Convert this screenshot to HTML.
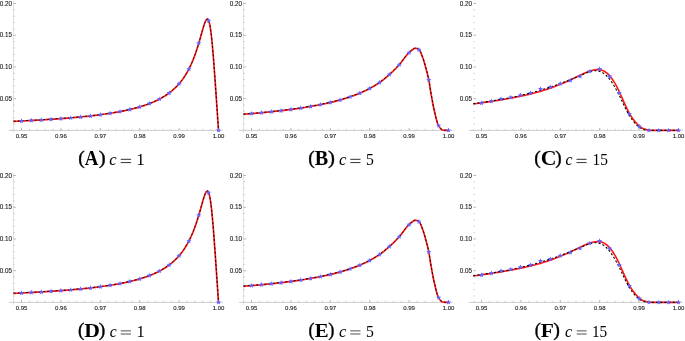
<!DOCTYPE html>
<html><head><meta charset="utf-8"><style>
html,body{margin:0;padding:0;background:#fff;overflow:hidden;}
svg{display:block;will-change:transform;}
.tl text{font-family:"Liberation Sans",sans-serif;font-size:6px;fill:#1e1e1e;stroke:#1e1e1e;stroke-width:0.12px;}
.tl .yl{font-size:6.3px;}
.cap text{font-family:"Liberation Serif",serif;fill:#000;}
.cap .b{font-weight:bold;}
.cap .i{font-style:italic;}
.cap .p{stroke:#000;stroke-width:0.35px;}
</style></head><body>
<svg width="685" height="341" viewBox="0 0 685 341">
<rect width="685" height="341" fill="#fff"/>
<line x1="9.00" y1="130.40" x2="222.80" y2="130.40" stroke="#c6c6c6" stroke-width="0.9"/>
<line x1="13.40" y1="1.00" x2="13.40" y2="132.70" stroke="#e0e0e0" stroke-width="1"/>
<path d="M21.50,130.40V127.90M60.90,130.40V127.90M100.30,130.40V127.90M139.70,130.40V127.90M179.10,130.40V127.90M218.50,130.40V127.90M13.40,98.68H16.10M13.40,66.95H16.10M13.40,35.23H16.10M13.40,3.50H16.10" stroke="#9a9a9a" stroke-width="0.7" fill="none"/>
<path d="M29.38,130.40V128.90M37.26,130.40V128.90M45.14,130.40V128.90M53.02,130.40V128.90M68.78,130.40V128.90M76.66,130.40V128.90M84.54,130.40V128.90M92.42,130.40V128.90M108.18,130.40V128.90M116.06,130.40V128.90M123.94,130.40V128.90M131.82,130.40V128.90M147.58,130.40V128.90M155.46,130.40V128.90M163.34,130.40V128.90M171.22,130.40V128.90M186.98,130.40V128.90M194.86,130.40V128.90M202.74,130.40V128.90M210.62,130.40V128.90M13.62,130.40V128.90M13.40,124.06H15.00M13.40,117.71H15.00M13.40,111.37H15.00M13.40,105.02H15.00M13.40,92.33H15.00M13.40,85.98H15.00M13.40,79.64H15.00M13.40,73.30H15.00M13.40,60.61H15.00M13.40,54.26H15.00M13.40,47.92H15.00M13.40,41.57H15.00M13.40,28.88H15.00M13.40,22.53H15.00M13.40,16.19H15.00M13.40,9.84H15.00" stroke="#b4b4b4" stroke-width="0.6" fill="none"/>
<g class="tl"><text x="21.50" y="138.30" text-anchor="middle">0.95</text><text x="60.90" y="138.30" text-anchor="middle">0.96</text><text x="100.30" y="138.30" text-anchor="middle">0.97</text><text x="139.70" y="138.30" text-anchor="middle">0.98</text><text x="179.10" y="138.30" text-anchor="middle">0.99</text><text x="218.50" y="138.30" text-anchor="middle">1.00</text><text x="12.00" y="100.93" text-anchor="end" class="yl">0.05</text><text x="12.00" y="69.20" text-anchor="end" class="yl">0.10</text><text x="12.00" y="37.47" text-anchor="end" class="yl">0.15</text><text x="12.00" y="5.75" text-anchor="end" class="yl">0.20</text></g>
<path d="M13.50,121.38 L15.17,121.30 L16.85,121.23 L18.52,121.15 L20.19,121.07 L21.87,120.99 L23.54,120.91 L25.21,120.83 L26.88,120.75 L28.56,120.66 L30.23,120.57 L31.90,120.49 L33.57,120.40 L35.25,120.31 L36.92,120.21 L38.59,120.12 L40.27,120.02 L41.94,119.92 L43.61,119.82 L45.28,119.72 L46.96,119.62 L48.63,119.51 L50.30,119.40 L51.97,119.29 L53.65,119.18 L55.32,119.06 L56.99,118.95 L58.66,118.83 L60.34,118.70 L62.01,118.58 L63.68,118.45 L65.36,118.32 L67.03,118.19 L68.70,118.05 L70.37,117.91 L72.05,117.77 L73.72,117.62 L75.39,117.47 L77.06,117.32 L78.74,117.16 L80.41,117.00 L82.08,116.84 L83.76,116.67 L85.43,116.50 L87.10,116.32 L88.77,116.14 L90.45,115.95 L92.12,115.76 L93.79,115.57 L95.46,115.37 L97.14,115.16 L98.81,114.95 L100.48,114.73 L102.16,114.50 L103.83,114.27 L105.50,114.03 L107.17,113.79 L108.85,113.53 L110.52,113.27 L112.19,113.00 L113.86,112.72 L115.54,112.44 L117.21,112.14 L118.88,111.83 L120.56,111.52 L122.23,111.19 L123.90,110.85 L125.57,110.50 L127.25,110.13 L128.92,109.76 L130.59,109.36 L132.26,108.96 L133.94,108.53 L135.61,108.09 L137.28,107.63 L138.95,107.16 L140.63,106.66 L142.30,106.14 L143.97,105.60 L145.65,105.03 L147.32,104.43 L148.99,103.81 L150.66,103.16 L152.34,102.47 L154.01,101.75 L155.68,100.99 L157.35,100.19 L159.03,99.35 L160.70,98.45 L162.37,97.51 L164.05,96.50 L165.72,95.44 L167.39,94.31 L169.06,93.10 L170.74,91.81 L172.41,90.42 L174.08,88.94 L175.75,87.35 L177.43,85.63 L179.10,83.77 L179.25,83.60 L179.40,83.42 L179.56,83.24 L179.71,83.06 L179.86,82.88 L180.01,82.69 L180.16,82.51 L180.32,82.32 L180.47,82.14 L180.62,81.95 L180.77,81.76 L180.93,81.57 L181.08,81.37 L181.23,81.18 L181.38,80.98 L181.53,80.79 L181.69,80.59 L181.84,80.39 L181.99,80.19 L182.14,79.98 L182.29,79.78 L182.45,79.57 L182.60,79.36 L182.75,79.15 L182.90,78.94 L183.06,78.73 L183.21,78.51 L183.36,78.30 L183.51,78.08 L183.66,77.86 L183.82,77.64 L183.97,77.41 L184.12,77.19 L184.27,76.96 L184.42,76.73 L184.58,76.50 L184.73,76.27 L184.88,76.03 L185.03,75.79 L185.18,75.56 L185.34,75.32 L185.49,75.07 L185.64,74.83 L185.79,74.58 L185.95,74.33 L186.10,74.08 L186.25,73.83 L186.40,73.57 L186.55,73.32 L186.71,73.06 L186.86,72.80 L187.01,72.53 L187.16,72.27 L187.31,72.00 L187.47,71.73 L187.62,71.45 L187.77,71.18 L187.92,70.90 L188.08,70.62 L188.23,70.34 L188.38,70.05 L188.53,69.76 L188.68,69.47 L188.84,69.18 L188.99,68.89 L189.14,68.59 L189.29,68.29 L189.44,67.99 L189.60,67.68 L189.75,67.37 L189.90,67.06 L190.05,66.75 L190.21,66.43 L190.36,66.11 L190.51,65.79 L190.66,65.46 L190.81,65.13 L190.97,64.80 L191.12,64.47 L191.27,64.13 L191.42,63.79 L191.57,63.45 L191.73,63.10 L191.88,62.75 L192.03,62.40 L192.18,62.04 L192.33,61.68 L192.49,61.32 L192.64,60.96 L192.79,60.59 L192.94,60.22 L193.10,59.84 L193.25,59.46 L193.40,59.08 L193.55,58.69 L193.70,58.30 L193.86,57.91 L194.01,57.52 L194.16,57.12 L194.31,56.71 L194.46,56.31 L194.62,55.90 L194.77,55.48 L194.92,55.06 L195.07,54.64 L195.23,54.22 L195.38,53.79 L195.53,53.36 L195.68,52.92 L195.83,52.48 L195.99,52.04 L196.14,51.59 L196.29,51.14 L196.44,50.69 L196.59,50.23 L196.75,49.77 L196.90,49.30 L197.05,48.83 L197.20,48.36 L197.35,47.88 L197.51,47.40 L197.66,46.92 L197.81,46.43 L197.96,45.94 L198.12,45.45 L198.27,44.95 L198.42,44.45 L198.57,43.95 L198.72,43.44 L198.88,42.93 L199.03,42.42 L199.18,41.90 L199.33,41.38 L199.48,40.86 L199.64,40.34 L199.79,39.81 L199.94,39.28 L200.09,38.75 L200.25,38.22 L200.40,37.68 L200.55,37.15 L200.70,36.61 L200.85,36.07 L201.01,35.53 L201.16,34.99 L201.31,34.46 L201.46,33.92 L201.61,33.38 L201.77,32.84 L201.92,32.30 L202.07,31.76 L202.22,31.23 L202.37,30.70 L202.53,30.17 L202.68,29.64 L202.83,29.12 L202.98,28.60 L203.14,28.09 L203.29,27.58 L203.44,27.08 L203.59,26.58 L203.74,26.09 L203.90,25.61 L204.05,25.14 L204.20,24.68 L204.35,24.23 L204.50,23.80 L204.66,23.37 L204.81,22.96 L204.96,22.56 L205.11,22.18 L205.27,21.81 L205.42,21.47 L205.57,21.14 L205.72,20.83 L205.87,20.54 L206.03,20.28 L206.18,20.04 L206.33,19.82 L206.48,19.64 L206.63,19.48 L206.79,19.35 L206.94,19.25 L207.09,19.18 L207.24,19.15 L207.39,19.15 L207.55,19.19 L207.70,19.26 L207.85,19.38 L208.00,19.54 L208.16,19.74 L208.31,19.98 L208.46,20.27 L208.61,20.61 L208.76,20.99 L208.92,21.43 L209.07,21.91 L209.22,22.44 L209.37,23.03 L209.52,23.67 L209.68,24.36 L209.83,25.11 L209.98,25.91 L210.13,26.76 L210.29,27.68 L210.44,28.64 L210.59,29.66 L210.74,30.74 L210.89,31.87 L211.05,33.06 L211.20,34.30 L211.35,35.60 L211.50,36.94 L211.65,38.34 L211.81,39.79 L211.96,41.29 L212.11,42.84 L212.26,44.43 L212.42,46.07 L212.57,47.75 L212.72,49.48 L212.87,51.24 L213.02,53.05 L213.18,54.89 L213.33,56.77 L213.48,58.68 L213.63,60.62 L213.78,62.59 L213.94,64.59 L214.09,66.61 L214.24,68.66 L214.39,70.73 L214.54,72.82 L214.70,74.93 L214.85,77.06 L215.00,79.20 L215.15,81.36 L215.31,83.53 L215.46,85.71 L215.61,87.91 L215.76,90.11 L215.91,92.32 L216.07,94.54 L216.22,96.76 L216.37,98.99 L216.52,101.22 L216.67,103.46 L216.83,105.69 L216.98,107.94 L217.13,110.18 L217.28,112.42 L217.44,114.67 L217.59,116.92 L217.74,119.16 L217.89,121.41 L218.04,123.66 L218.20,125.90 L218.35,128.15 L218.50,130.40" stroke="#ff1a1a" stroke-width="1.7" fill="none" stroke-linejoin="round"/>
<path d="M13.50,121.38 L15.17,121.30 L16.85,121.23 L18.52,121.15 L20.19,121.07 L21.87,120.99 L23.54,120.91 L25.21,120.83 L26.88,120.75 L28.56,120.66 L30.23,120.57 L31.90,120.49 L33.57,120.40 L35.25,120.31 L36.92,120.21 L38.59,120.12 L40.27,120.02 L41.94,119.92 L43.61,119.82 L45.28,119.72 L46.96,119.62 L48.63,119.51 L50.30,119.40 L51.97,119.29 L53.65,119.18 L55.32,119.06 L56.99,118.95 L58.66,118.83 L60.34,118.70 L62.01,118.58 L63.68,118.45 L65.36,118.32 L67.03,118.19 L68.70,118.05 L70.37,117.91 L72.05,117.77 L73.72,117.62 L75.39,117.47 L77.06,117.32 L78.74,117.16 L80.41,117.00 L82.08,116.84 L83.76,116.67 L85.43,116.50 L87.10,116.32 L88.77,116.14 L90.45,115.95 L92.12,115.76 L93.79,115.57 L95.46,115.37 L97.14,115.16 L98.81,114.95 L100.48,114.73 L102.16,114.50 L103.83,114.27 L105.50,114.03 L107.17,113.79 L108.85,113.53 L110.52,113.27 L112.19,113.00 L113.86,112.72 L115.54,112.44 L117.21,112.14 L118.88,111.83 L120.56,111.52 L122.23,111.19 L123.90,110.85 L125.57,110.50 L127.25,110.13 L128.92,109.76 L130.59,109.36 L132.26,108.96 L133.94,108.53 L135.61,108.09 L137.28,107.63 L138.95,107.16 L140.63,106.66 L142.30,106.14 L143.97,105.60 L145.65,105.03 L147.32,104.43 L148.99,103.81 L150.66,103.16 L152.34,102.47 L154.01,101.75 L155.68,100.99 L157.35,100.19 L159.03,99.35 L160.70,98.45 L162.37,97.51 L164.05,96.50 L165.72,95.44 L167.39,94.31 L169.06,93.10 L170.74,91.81 L172.41,90.42 L174.08,88.94 L175.75,87.35 L177.43,85.63 L179.10,83.77 L179.25,83.60 L179.40,83.42 L179.56,83.24 L179.71,83.06 L179.86,82.88 L180.01,82.69 L180.16,82.51 L180.32,82.32 L180.47,82.14 L180.62,81.95 L180.77,81.76 L180.93,81.57 L181.08,81.37 L181.23,81.18 L181.38,80.98 L181.53,80.79 L181.69,80.59 L181.84,80.39 L181.99,80.19 L182.14,79.98 L182.29,79.78 L182.45,79.57 L182.60,79.36 L182.75,79.15 L182.90,78.94 L183.06,78.73 L183.21,78.51 L183.36,78.30 L183.51,78.08 L183.66,77.86 L183.82,77.64 L183.97,77.41 L184.12,77.19 L184.27,76.96 L184.42,76.73 L184.58,76.50 L184.73,76.27 L184.88,76.03 L185.03,75.79 L185.18,75.56 L185.34,75.32 L185.49,75.07 L185.64,74.83 L185.79,74.58 L185.95,74.33 L186.10,74.08 L186.25,73.83 L186.40,73.57 L186.55,73.32 L186.71,73.06 L186.86,72.80 L187.01,72.53 L187.16,72.27 L187.31,72.00 L187.47,71.73 L187.62,71.45 L187.77,71.18 L187.92,70.90 L188.08,70.62 L188.23,70.34 L188.38,70.05 L188.53,69.76 L188.68,69.47 L188.84,69.18 L188.99,68.89 L189.14,68.59 L189.29,68.29 L189.44,67.99 L189.60,67.68 L189.75,67.37 L189.90,67.06 L190.05,66.75 L190.21,66.43 L190.36,66.11 L190.51,65.79 L190.66,65.46 L190.81,65.13 L190.97,64.80 L191.12,64.47 L191.27,64.13 L191.42,63.79 L191.57,63.45 L191.73,63.10 L191.88,62.75 L192.03,62.40 L192.18,62.04 L192.33,61.68 L192.49,61.32 L192.64,60.96 L192.79,60.59 L192.94,60.22 L193.10,59.84 L193.25,59.46 L193.40,59.08 L193.55,58.69 L193.70,58.30 L193.86,57.91 L194.01,57.52 L194.16,57.12 L194.31,56.71 L194.46,56.31 L194.62,55.90 L194.77,55.48 L194.92,55.06 L195.07,54.64 L195.23,54.22 L195.38,53.79 L195.53,53.36 L195.68,52.92 L195.83,52.48 L195.99,52.04 L196.14,51.59 L196.29,51.14 L196.44,50.69 L196.59,50.23 L196.75,49.77 L196.90,49.30 L197.05,48.83 L197.20,48.36 L197.35,47.88 L197.51,47.40 L197.66,46.92 L197.81,46.43 L197.96,45.94 L198.12,45.45 L198.27,44.95 L198.42,44.45 L198.57,43.95 L198.72,43.44 L198.88,42.93 L199.03,42.42 L199.18,41.90 L199.33,41.38 L199.48,40.86 L199.64,40.34 L199.79,39.81 L199.94,39.28 L200.09,38.75 L200.25,38.22 L200.40,37.68 L200.55,37.15 L200.70,36.61 L200.85,36.07 L201.01,35.53 L201.16,34.99 L201.31,34.46 L201.46,33.92 L201.61,33.38 L201.77,32.84 L201.92,32.30 L202.07,31.76 L202.22,31.23 L202.37,30.70 L202.53,30.17 L202.68,29.64 L202.83,29.12 L202.98,28.60 L203.14,28.09 L203.29,27.58 L203.44,27.08 L203.59,26.58 L203.74,26.09 L203.90,25.61 L204.05,25.14 L204.20,24.68 L204.35,24.23 L204.50,23.80 L204.66,23.37 L204.81,22.96 L204.96,22.56 L205.11,22.18 L205.27,21.81 L205.42,21.47 L205.57,21.14 L205.72,20.83 L205.87,20.54 L206.03,20.28 L206.18,20.04 L206.33,19.82 L206.48,19.64 L206.63,19.48 L206.79,19.35 L206.94,19.25 L207.09,19.18 L207.24,19.15 L207.39,19.15 L207.55,19.19 L207.70,19.26 L207.85,19.38 L208.00,19.54 L208.16,19.74 L208.31,19.98 L208.46,20.27 L208.61,20.61 L208.76,20.99 L208.92,21.43 L209.07,21.91 L209.22,22.44 L209.37,23.03 L209.52,23.67 L209.68,24.36 L209.83,25.11 L209.98,25.91 L210.13,26.76 L210.29,27.68 L210.44,28.64 L210.59,29.66 L210.74,30.74 L210.89,31.87 L211.05,33.06 L211.20,34.30 L211.35,35.60 L211.50,36.94 L211.65,38.34 L211.81,39.79 L211.96,41.29 L212.11,42.84 L212.26,44.43 L212.42,46.07 L212.57,47.75 L212.72,49.48 L212.87,51.24 L213.02,53.05 L213.18,54.89 L213.33,56.77 L213.48,58.68 L213.63,60.62 L213.78,62.59 L213.94,64.59 L214.09,66.61 L214.24,68.66 L214.39,70.73 L214.54,72.82 L214.70,74.93 L214.85,77.06 L215.00,79.20 L215.15,81.36 L215.31,83.53 L215.46,85.71 L215.61,87.91 L215.76,90.11 L215.91,92.32 L216.07,94.54 L216.22,96.76 L216.37,98.99 L216.52,101.22 L216.67,103.46 L216.83,105.69 L216.98,107.94 L217.13,110.18 L217.28,112.42 L217.44,114.67 L217.59,116.92 L217.74,119.16 L217.89,121.41 L218.04,123.66 L218.20,125.90 L218.35,128.15 L218.50,130.40" stroke="#000" stroke-width="0.95" stroke-dasharray="2.1 2.1" fill="none" transform="translate(0,-0.25)"/>
<g fill="#6262ff"><polygon points="21.50,118.31 22.21,120.03 24.07,120.18 22.66,121.39 23.09,123.19 21.50,122.22 19.91,123.19 20.34,121.39 18.93,120.18 20.79,120.03"/><polygon points="31.35,117.82 32.06,119.53 33.92,119.68 32.51,120.89 32.94,122.70 31.35,121.73 29.76,122.70 30.19,120.89 28.78,119.68 30.64,119.53"/><polygon points="41.20,117.27 41.91,118.98 43.77,119.13 42.36,120.34 42.79,122.15 41.20,121.18 39.61,122.15 40.04,120.34 38.63,119.13 40.49,118.98"/><polygon points="51.05,116.65 51.76,118.37 53.62,118.52 52.21,119.73 52.64,121.54 51.05,120.57 49.46,121.54 49.89,119.73 48.48,118.52 50.34,118.37"/><polygon points="60.90,115.96 61.61,117.68 63.47,117.83 62.06,119.04 62.49,120.85 60.90,119.88 59.31,120.85 59.74,119.04 58.33,117.83 60.19,117.68"/><polygon points="70.75,115.18 71.46,116.90 73.32,117.05 71.91,118.26 72.34,120.06 70.75,119.10 69.16,120.06 69.59,118.26 68.18,117.05 70.04,116.90"/><polygon points="80.60,114.29 81.31,116.00 83.17,116.15 81.76,117.36 82.19,119.17 80.60,118.20 79.01,119.17 79.44,117.36 78.03,116.15 79.89,116.00"/><polygon points="90.45,113.25 91.16,114.97 93.02,115.12 91.61,116.33 92.04,118.14 90.45,117.17 88.86,118.14 89.29,116.33 87.88,115.12 89.74,114.97"/><polygon points="100.30,112.05 101.01,113.77 102.87,113.92 101.46,115.13 101.89,116.94 100.30,115.97 98.71,116.94 99.14,115.13 97.73,113.92 99.59,113.77"/><polygon points="110.15,110.63 110.86,112.35 112.72,112.50 111.31,113.71 111.74,115.51 110.15,114.54 108.56,115.51 108.99,113.71 107.58,112.50 109.44,112.35"/><polygon points="120.00,108.92 120.71,110.64 122.57,110.79 121.16,112.00 121.59,113.81 120.00,112.84 118.41,113.81 118.84,112.00 117.43,110.79 119.29,110.64"/><polygon points="129.85,106.84 130.56,108.56 132.42,108.71 131.01,109.92 131.44,111.72 129.85,110.76 128.26,111.72 128.69,109.92 127.28,108.71 129.14,108.56"/><polygon points="139.70,104.24 140.41,105.96 142.27,106.10 140.86,107.31 141.29,109.12 139.70,108.15 138.11,109.12 138.54,107.31 137.13,106.10 138.99,105.96"/><polygon points="149.55,100.90 150.26,102.61 152.12,102.76 150.71,103.97 151.14,105.78 149.55,104.81 147.96,105.78 148.39,103.97 146.98,102.76 148.84,102.61"/><polygon points="159.40,96.45 160.11,98.17 161.97,98.32 160.56,99.53 160.99,101.34 159.40,100.37 157.81,101.34 158.24,99.53 156.83,98.32 158.69,98.17"/><polygon points="169.25,90.26 169.96,91.97 171.82,92.12 170.41,93.33 170.84,95.14 169.25,94.17 167.66,95.14 168.09,93.33 166.68,92.12 168.54,91.97"/><polygon points="179.10,81.07 179.81,82.79 181.67,82.94 180.26,84.15 180.69,85.96 179.10,84.99 177.51,85.96 177.94,84.15 176.53,82.94 178.39,82.79"/><polygon points="188.95,66.26 189.66,67.98 191.52,68.13 190.11,69.34 190.54,71.15 188.95,70.18 187.36,71.15 187.79,69.34 186.38,68.13 188.24,67.98"/><polygon points="198.80,40.49 199.51,42.20 201.37,42.35 199.96,43.56 200.39,45.37 198.80,44.40 197.21,45.37 197.64,43.56 196.23,42.35 198.09,42.20"/><polygon points="208.65,18.00 209.36,19.72 211.22,19.87 209.81,21.08 210.24,22.89 208.65,21.92 207.06,22.89 207.49,21.08 206.08,19.87 207.94,19.72"/><polygon points="218.50,127.70 219.21,129.42 221.07,129.57 219.66,130.78 220.09,132.58 218.50,131.62 216.91,132.58 217.34,130.78 215.93,129.57 217.79,129.42"/></g>
<g class="cap"><text transform="translate(78.17,163.98) scale(1.038,1)" style="font-size:18.89px" class="p">(</text><text transform="translate(84.86,164.75) scale(0.922,1)" style="font-size:20.45px" class="b">A</text><text transform="translate(98.63,163.98) scale(1.100,1)" style="font-size:18.89px" class="p">)</text><text transform="translate(109.25,164.79) scale(1.042,1)" style="font-size:15.83px" class="i">c</text><rect x="120.70" y="158.83" width="10.40" height="0.95" fill="#2a2a2a"/><rect x="120.70" y="162.12" width="10.40" height="0.95" fill="#2a2a2a"/><text transform="translate(136.31,164.85) scale(1.067,1)" style="font-size:16.06px" class="r">1</text></g>
<line x1="239.00" y1="130.40" x2="452.80" y2="130.40" stroke="#c6c6c6" stroke-width="0.9"/>
<line x1="243.40" y1="1.00" x2="243.40" y2="132.70" stroke="#e0e0e0" stroke-width="1"/>
<path d="M251.50,130.40V127.90M290.90,130.40V127.90M330.30,130.40V127.90M369.70,130.40V127.90M409.10,130.40V127.90M448.50,130.40V127.90M243.40,98.68H246.10M243.40,66.95H246.10M243.40,35.23H246.10M243.40,3.50H246.10" stroke="#9a9a9a" stroke-width="0.7" fill="none"/>
<path d="M259.38,130.40V128.90M267.26,130.40V128.90M275.14,130.40V128.90M283.02,130.40V128.90M298.78,130.40V128.90M306.66,130.40V128.90M314.54,130.40V128.90M322.42,130.40V128.90M338.18,130.40V128.90M346.06,130.40V128.90M353.94,130.40V128.90M361.82,130.40V128.90M377.58,130.40V128.90M385.46,130.40V128.90M393.34,130.40V128.90M401.22,130.40V128.90M416.98,130.40V128.90M424.86,130.40V128.90M432.74,130.40V128.90M440.62,130.40V128.90M243.62,130.40V128.90M243.40,124.06H245.00M243.40,117.71H245.00M243.40,111.37H245.00M243.40,105.02H245.00M243.40,92.33H245.00M243.40,85.98H245.00M243.40,79.64H245.00M243.40,73.30H245.00M243.40,60.61H245.00M243.40,54.26H245.00M243.40,47.92H245.00M243.40,41.57H245.00M243.40,28.88H245.00M243.40,22.53H245.00M243.40,16.19H245.00M243.40,9.84H245.00" stroke="#b4b4b4" stroke-width="0.6" fill="none"/>
<g class="tl"><text x="251.50" y="138.30" text-anchor="middle">0.95</text><text x="290.90" y="138.30" text-anchor="middle">0.96</text><text x="330.30" y="138.30" text-anchor="middle">0.97</text><text x="369.70" y="138.30" text-anchor="middle">0.98</text><text x="409.10" y="138.30" text-anchor="middle">0.99</text><text x="448.50" y="138.30" text-anchor="middle">1.00</text><text x="242.00" y="100.93" text-anchor="end" class="yl">0.05</text><text x="242.00" y="69.20" text-anchor="end" class="yl">0.10</text><text x="242.00" y="37.47" text-anchor="end" class="yl">0.15</text><text x="242.00" y="5.75" text-anchor="end" class="yl">0.20</text></g>
<path d="M243.40,114.31 L245.25,114.17 L247.10,114.02 L248.94,113.86 L250.79,113.71 L252.64,113.55 L254.49,113.39 L256.34,113.23 L258.18,113.06 L260.03,112.89 L261.88,112.72 L263.73,112.54 L265.58,112.36 L267.43,112.18 L269.27,111.99 L271.12,111.80 L272.97,111.60 L274.82,111.40 L276.67,111.20 L278.51,110.99 L280.36,110.77 L282.21,110.56 L284.06,110.33 L285.91,110.10 L287.75,109.87 L289.60,109.63 L291.45,109.39 L293.30,109.14 L295.15,108.88 L296.99,108.62 L298.84,108.35 L300.69,108.07 L302.54,107.79 L304.39,107.50 L306.24,107.20 L308.08,106.90 L309.93,106.59 L311.78,106.26 L313.63,105.93 L315.48,105.59 L317.32,105.24 L319.17,104.88 L321.02,104.51 L322.87,104.13 L324.72,103.74 L326.56,103.34 L328.41,102.92 L330.26,102.49 L332.11,102.05 L333.96,101.59 L335.81,101.12 L337.65,100.63 L339.50,100.13 L341.35,99.60 L343.20,99.06 L345.05,98.50 L346.89,97.92 L348.74,97.32 L350.59,96.70 L352.44,96.05 L354.29,95.37 L356.13,94.67 L357.98,93.94 L359.83,93.18 L361.68,92.39 L363.53,91.57 L365.37,90.70 L367.22,89.80 L369.07,88.85 L370.92,87.87 L372.77,86.83 L374.62,85.74 L376.46,84.59 L378.31,83.39 L380.16,82.11 L382.01,80.75 L383.86,79.30 L385.70,77.78 L387.55,76.20 L389.40,74.56 L389.67,74.32 L389.94,74.08 L390.21,73.83 L390.48,73.59 L390.75,73.34 L391.02,73.09 L391.29,72.84 L391.56,72.58 L391.83,72.33 L392.10,72.07 L392.37,71.81 L392.64,71.56 L392.91,71.29 L393.18,71.03 L393.45,70.77 L393.72,70.50 L393.99,70.24 L394.26,69.97 L394.53,69.70 L394.80,69.43 L395.07,69.15 L395.34,68.88 L395.61,68.60 L395.88,68.32 L396.15,68.05 L396.42,67.76 L396.69,67.48 L396.96,67.20 L397.23,66.91 L397.50,66.63 L397.77,66.34 L398.04,66.05 L398.31,65.76 L398.58,65.47 L398.85,65.17 L399.12,64.88 L399.38,64.58 L399.65,64.27 L399.92,63.96 L400.19,63.64 L400.46,63.31 L400.73,62.97 L401.00,62.63 L401.27,62.29 L401.54,61.94 L401.81,61.58 L402.08,61.22 L402.35,60.86 L402.62,60.50 L402.89,60.13 L403.16,59.77 L403.43,59.40 L403.70,59.03 L403.97,58.67 L404.24,58.30 L404.51,57.94 L404.78,57.58 L405.05,57.23 L405.32,56.87 L405.59,56.53 L405.86,56.18 L406.13,55.84 L406.40,55.51 L406.67,55.19 L406.94,54.87 L407.21,54.56 L407.48,54.26 L407.75,53.97 L408.02,53.69 L408.29,53.42 L408.56,53.16 L408.83,52.91 L409.10,52.67 L409.37,52.44 L409.64,52.20 L409.91,51.96 L410.18,51.71 L410.45,51.47 L410.72,51.22 L410.99,50.97 L411.26,50.73 L411.53,50.49 L411.80,50.25 L412.07,50.02 L412.34,49.80 L412.61,49.59 L412.88,49.39 L413.15,49.21 L413.42,49.03 L413.69,48.87 L413.96,48.73 L414.23,48.61 L414.50,48.50 L414.77,48.42 L415.04,48.35 L415.31,48.32 L415.58,48.30 L415.85,48.31 L416.12,48.34 L416.39,48.40 L416.66,48.47 L416.93,48.56 L417.20,48.67 L417.47,48.80 L417.74,48.94 L418.01,49.09 L418.28,49.26 L418.55,49.44 L418.82,49.62 L419.08,49.82 L419.35,50.03 L419.62,50.34 L419.89,50.73 L420.16,51.20 L420.43,51.73 L420.70,52.33 L420.97,52.97 L421.24,53.66 L421.51,54.37 L421.78,55.10 L422.05,55.84 L422.32,56.58 L422.59,57.31 L422.86,58.04 L423.13,58.80 L423.40,59.60 L423.67,60.43 L423.94,61.29 L424.21,62.18 L424.48,63.10 L424.75,64.04 L425.02,64.99 L425.29,65.96 L425.56,66.94 L425.83,67.94 L426.10,68.93 L426.37,69.93 L426.64,70.94 L426.91,71.95 L427.18,72.98 L427.45,74.04 L427.72,75.13 L427.99,76.26 L428.26,77.45 L428.53,78.69 L428.80,80.00 L429.07,81.44 L429.34,83.05 L429.61,84.77 L429.88,86.55 L430.15,88.34 L430.42,90.09 L430.69,91.75 L430.96,93.31 L431.23,94.85 L431.50,96.38 L431.77,97.89 L432.04,99.39 L432.31,100.87 L432.58,102.32 L432.85,103.74 L433.12,105.12 L433.39,106.46 L433.66,107.75 L433.93,109.00 L434.20,110.19 L434.47,111.35 L434.74,112.53 L435.01,113.71 L435.28,114.87 L435.55,116.03 L435.82,117.15 L436.09,118.25 L436.36,119.31 L436.63,120.32 L436.90,121.27 L437.17,122.16 L437.44,122.97 L437.71,123.71 L437.98,124.35 L438.25,124.90 L438.52,125.38 L438.78,125.84 L439.05,126.29 L439.32,126.72 L439.59,127.14 L439.86,127.54 L440.13,127.91 L440.40,128.27 L440.67,128.59 L440.94,128.89 L441.21,129.16 L441.48,129.40 L441.75,129.60 L442.02,129.77 L442.29,129.90 L442.56,129.99 L442.83,130.05 L443.10,130.11 L443.37,130.17 L443.64,130.22 L443.91,130.26 L444.18,130.30 L444.45,130.34 L444.72,130.36 L444.99,130.38 L445.26,130.40 L445.53,130.40 L445.80,130.40 L446.07,130.40 L446.34,130.40 L446.61,130.40 L446.88,130.40 L447.15,130.40 L447.42,130.40 L447.69,130.40 L447.96,130.40 L448.23,130.40 L448.50,130.40" stroke="#ff1a1a" stroke-width="1.7" fill="none" stroke-linejoin="round"/>
<path d="M243.40,114.31 L245.25,114.17 L247.10,114.02 L248.94,113.86 L250.79,113.71 L252.64,113.55 L254.49,113.39 L256.34,113.23 L258.18,113.06 L260.03,112.89 L261.88,112.72 L263.73,112.54 L265.58,112.36 L267.43,112.18 L269.27,111.99 L271.12,111.80 L272.97,111.60 L274.82,111.40 L276.67,111.20 L278.51,110.99 L280.36,110.77 L282.21,110.56 L284.06,110.33 L285.91,110.10 L287.75,109.87 L289.60,109.63 L291.45,109.39 L293.30,109.14 L295.15,108.88 L296.99,108.62 L298.84,108.35 L300.69,108.07 L302.54,107.79 L304.39,107.50 L306.24,107.20 L308.08,106.90 L309.93,106.59 L311.78,106.26 L313.63,105.93 L315.48,105.59 L317.32,105.24 L319.17,104.88 L321.02,104.51 L322.87,104.13 L324.72,103.74 L326.56,103.34 L328.41,102.92 L330.26,102.49 L332.11,102.05 L333.96,101.59 L335.81,101.12 L337.65,100.63 L339.50,100.13 L341.35,99.60 L343.20,99.06 L345.05,98.50 L346.89,97.92 L348.74,97.32 L350.59,96.70 L352.44,96.05 L354.29,95.37 L356.13,94.67 L357.98,93.94 L359.83,93.18 L361.68,92.39 L363.53,91.57 L365.37,90.70 L367.22,89.80 L369.07,88.85 L370.92,87.87 L372.77,86.83 L374.62,85.74 L376.46,84.59 L378.31,83.39 L380.16,82.11 L382.01,80.75 L383.86,79.30 L385.70,77.78 L387.55,76.20 L389.40,74.56 L389.67,74.32 L389.94,74.08 L390.21,73.83 L390.48,73.59 L390.75,73.34 L391.02,73.09 L391.29,72.84 L391.56,72.58 L391.83,72.33 L392.10,72.07 L392.37,71.81 L392.64,71.56 L392.91,71.29 L393.18,71.03 L393.45,70.77 L393.72,70.50 L393.99,70.24 L394.26,69.97 L394.53,69.70 L394.80,69.43 L395.07,69.15 L395.34,68.88 L395.61,68.60 L395.88,68.32 L396.15,68.05 L396.42,67.76 L396.69,67.48 L396.96,67.20 L397.23,66.91 L397.50,66.63 L397.77,66.34 L398.04,66.05 L398.31,65.76 L398.58,65.47 L398.85,65.17 L399.12,64.88 L399.38,64.58 L399.65,64.27 L399.92,63.96 L400.19,63.64 L400.46,63.31 L400.73,62.97 L401.00,62.63 L401.27,62.29 L401.54,61.94 L401.81,61.58 L402.08,61.22 L402.35,60.86 L402.62,60.50 L402.89,60.13 L403.16,59.77 L403.43,59.40 L403.70,59.03 L403.97,58.67 L404.24,58.30 L404.51,57.94 L404.78,57.58 L405.05,57.23 L405.32,56.87 L405.59,56.53 L405.86,56.18 L406.13,55.84 L406.40,55.51 L406.67,55.19 L406.94,54.87 L407.21,54.56 L407.48,54.26 L407.75,53.97 L408.02,53.69 L408.29,53.42 L408.56,53.16 L408.83,52.91 L409.10,52.67 L409.37,52.44 L409.64,52.20 L409.91,51.96 L410.18,51.71 L410.45,51.47 L410.72,51.22 L410.99,50.97 L411.26,50.73 L411.53,50.49 L411.80,50.25 L412.07,50.02 L412.34,49.80 L412.61,49.59 L412.88,49.39 L413.15,49.21 L413.42,49.03 L413.69,48.87 L413.96,48.73 L414.23,48.61 L414.50,48.50 L414.77,48.42 L415.04,48.35 L415.31,48.32 L415.58,48.30 L415.85,48.31 L416.12,48.34 L416.39,48.40 L416.66,48.47 L416.93,48.56 L417.20,48.67 L417.47,48.80 L417.74,48.94 L418.01,49.09 L418.28,49.26 L418.55,49.44 L418.82,49.62 L419.08,49.82 L419.35,50.03 L419.62,50.34 L419.89,50.73 L420.16,51.20 L420.43,51.73 L420.70,52.33 L420.97,52.97 L421.24,53.66 L421.51,54.37 L421.78,55.10 L422.05,55.84 L422.32,56.58 L422.59,57.31 L422.86,58.04 L423.13,58.80 L423.40,59.60 L423.67,60.43 L423.94,61.29 L424.21,62.18 L424.48,63.10 L424.75,64.04 L425.02,64.99 L425.29,65.96 L425.56,66.94 L425.83,67.94 L426.10,68.93 L426.37,69.93 L426.64,70.94 L426.91,71.95 L427.18,72.98 L427.45,74.04 L427.72,75.13 L427.99,76.26 L428.26,77.45 L428.53,78.69 L428.80,80.00 L429.07,81.44 L429.34,83.05 L429.61,84.77 L429.88,86.55 L430.15,88.34 L430.42,90.09 L430.69,91.75 L430.96,93.31 L431.23,94.85 L431.50,96.38 L431.77,97.89 L432.04,99.39 L432.31,100.87 L432.58,102.32 L432.85,103.74 L433.12,105.12 L433.39,106.46 L433.66,107.75 L433.93,109.00 L434.20,110.19 L434.47,111.35 L434.74,112.53 L435.01,113.71 L435.28,114.87 L435.55,116.03 L435.82,117.15 L436.09,118.25 L436.36,119.31 L436.63,120.32 L436.90,121.27 L437.17,122.16 L437.44,122.97 L437.71,123.71 L437.98,124.35 L438.25,124.90 L438.52,125.38 L438.78,125.84 L439.05,126.29 L439.32,126.72 L439.59,127.14 L439.86,127.54 L440.13,127.91 L440.40,128.27 L440.67,128.59 L440.94,128.89 L441.21,129.16 L441.48,129.40 L441.75,129.60 L442.02,129.77 L442.29,129.90 L442.56,129.99 L442.83,130.05 L443.10,130.11 L443.37,130.17 L443.64,130.22 L443.91,130.26 L444.18,130.30 L444.45,130.34 L444.72,130.36 L444.99,130.38 L445.26,130.40 L445.53,130.40 L445.80,130.40 L446.07,130.40 L446.34,130.40 L446.61,130.40 L446.88,130.40 L447.15,130.40 L447.42,130.40 L447.69,130.40 L447.96,130.40 L448.23,130.40 L448.50,130.40" stroke="#000" stroke-width="0.95" stroke-dasharray="2.1 2.1" fill="none" transform="translate(0,-0.25)"/>
<g fill="#6262ff"><polygon points="251.50,110.95 252.21,112.67 254.07,112.81 252.66,114.02 253.09,115.83 251.50,114.86 249.91,115.83 250.34,114.02 248.93,112.81 250.79,112.67"/><polygon points="261.35,110.07 262.06,111.78 263.92,111.93 262.51,113.14 262.94,114.95 261.35,113.98 259.76,114.95 260.19,113.14 258.78,111.93 260.64,111.78"/><polygon points="271.20,109.09 271.91,110.81 273.77,110.95 272.36,112.16 272.79,113.97 271.20,113.00 269.61,113.97 270.04,112.16 268.63,110.95 270.49,110.81"/><polygon points="281.05,107.99 281.76,109.71 283.62,109.86 282.21,111.07 282.64,112.88 281.05,111.91 279.46,112.88 279.89,111.07 278.48,109.86 280.34,109.71"/><polygon points="290.90,106.76 291.61,108.48 293.47,108.63 292.06,109.84 292.49,111.65 290.90,110.68 289.31,111.65 289.74,109.84 288.33,108.63 290.19,108.48"/><polygon points="300.75,105.37 301.46,107.08 303.32,107.23 301.91,108.44 302.34,110.25 300.75,109.28 299.16,110.25 299.59,108.44 298.18,107.23 300.04,107.08"/><polygon points="310.60,103.77 311.31,105.49 313.17,105.64 311.76,106.85 312.19,108.65 310.60,107.69 309.01,108.65 309.44,106.85 308.03,105.64 309.89,105.49"/><polygon points="320.45,101.93 321.16,103.65 323.02,103.80 321.61,105.00 322.04,106.81 320.45,105.84 318.86,106.81 319.29,105.00 317.88,103.80 319.74,103.65"/><polygon points="330.30,99.78 331.01,101.50 332.87,101.65 331.46,102.86 331.89,104.67 330.30,103.70 328.71,104.67 329.14,102.86 327.73,101.65 329.59,101.50"/><polygon points="340.15,97.24 340.86,98.96 342.72,99.11 341.31,100.32 341.74,102.13 340.15,101.16 338.56,102.13 338.99,100.32 337.58,99.11 339.44,98.96"/><polygon points="350.00,94.20 350.71,95.92 352.57,96.06 351.16,97.27 351.59,99.08 350.00,98.11 348.41,99.08 348.84,97.27 347.43,96.06 349.29,95.92"/><polygon points="359.85,90.48 360.56,92.19 362.42,92.34 361.01,93.55 361.44,95.36 359.85,94.39 358.26,95.36 358.69,93.55 357.28,92.34 359.14,92.19"/><polygon points="369.70,85.82 370.41,87.54 372.27,87.69 370.86,88.90 371.29,90.71 369.70,89.74 368.11,90.71 368.54,88.90 367.13,87.69 368.99,87.54"/><polygon points="379.55,79.84 380.26,81.56 382.12,81.71 380.71,82.92 381.14,84.72 379.55,83.76 377.96,84.72 378.39,82.92 376.98,81.71 378.84,81.56"/><polygon points="389.40,71.86 390.11,73.58 391.97,73.73 390.56,74.94 390.99,76.75 389.40,75.78 387.81,76.75 388.24,74.94 386.83,73.73 388.69,73.58"/><polygon points="399.25,62.03 399.96,63.75 401.82,63.89 400.41,65.10 400.84,66.91 399.25,65.94 397.66,66.91 398.09,65.10 396.68,63.89 398.54,63.75"/><polygon points="409.10,49.97 409.81,51.69 411.67,51.84 410.26,53.05 410.69,54.86 409.10,53.89 407.51,54.86 407.94,53.05 406.53,51.84 408.39,51.69"/><polygon points="418.95,47.02 419.66,48.73 421.52,48.88 420.11,50.09 420.54,51.90 418.95,50.93 417.36,51.90 417.79,50.09 416.38,48.88 418.24,48.73"/><polygon points="428.80,77.30 429.51,79.02 431.37,79.17 429.96,80.38 430.39,82.18 428.80,81.22 427.21,82.18 427.64,80.38 426.23,79.17 428.09,79.02"/><polygon points="438.65,122.91 439.36,124.63 441.22,124.78 439.81,125.98 440.24,127.79 438.65,126.82 437.06,127.79 437.49,125.98 436.08,124.78 437.94,124.63"/><polygon points="448.50,127.70 449.21,129.42 451.07,129.57 449.66,130.78 450.09,132.58 448.50,131.62 446.91,132.58 447.34,130.78 445.93,129.57 447.79,129.42"/></g>
<g class="cap"><text transform="translate(308.17,163.98) scale(1.038,1)" style="font-size:18.89px" class="p">(</text><text transform="translate(314.65,164.85) scale(0.985,1)" style="font-size:20.46px" class="b">B</text><text transform="translate(328.03,163.98) scale(1.100,1)" style="font-size:18.89px" class="p">)</text><text transform="translate(339.05,164.79) scale(1.058,1)" style="font-size:15.83px" class="i">c</text><rect x="350.30" y="158.83" width="10.20" height="0.95" fill="#2a2a2a"/><rect x="350.30" y="162.12" width="10.20" height="0.95" fill="#2a2a2a"/><text transform="translate(366.00,164.78) scale(0.954,1)" style="font-size:16.52px" class="r">5</text></g>
<line x1="469.00" y1="130.40" x2="682.80" y2="130.40" stroke="#c6c6c6" stroke-width="0.9"/>
<path d="M481.50,130.40V127.90M520.90,130.40V127.90M560.30,130.40V127.90M599.70,130.40V127.90M639.10,130.40V127.90M678.50,130.40V127.90M473.40,98.68H476.10M473.40,66.95H476.10M473.40,35.23H476.10M473.40,3.50H476.10" stroke="#9a9a9a" stroke-width="0.7" fill="none"/>
<path d="M489.38,130.40V128.90M497.26,130.40V128.90M505.14,130.40V128.90M513.02,130.40V128.90M528.78,130.40V128.90M536.66,130.40V128.90M544.54,130.40V128.90M552.42,130.40V128.90M568.18,130.40V128.90M576.06,130.40V128.90M583.94,130.40V128.90M591.82,130.40V128.90M607.58,130.40V128.90M615.46,130.40V128.90M623.34,130.40V128.90M631.22,130.40V128.90M646.98,130.40V128.90M654.86,130.40V128.90M662.74,130.40V128.90M670.62,130.40V128.90M473.62,130.40V128.90M473.40,124.06H475.00M473.40,117.71H475.00M473.40,111.37H475.00M473.40,105.02H475.00M473.40,92.33H475.00M473.40,85.98H475.00M473.40,79.64H475.00M473.40,73.30H475.00M473.40,60.61H475.00M473.40,54.26H475.00M473.40,47.92H475.00M473.40,41.57H475.00M473.40,28.88H475.00M473.40,22.53H475.00M473.40,16.19H475.00M473.40,9.84H475.00" stroke="#b4b4b4" stroke-width="0.6" fill="none"/>
<g class="tl"><text x="481.50" y="138.30" text-anchor="middle">0.95</text><text x="520.90" y="138.30" text-anchor="middle">0.96</text><text x="560.30" y="138.30" text-anchor="middle">0.97</text><text x="599.70" y="138.30" text-anchor="middle">0.98</text><text x="639.10" y="138.30" text-anchor="middle">0.99</text><text x="678.50" y="138.30" text-anchor="middle">1.00</text><text x="472.00" y="100.93" text-anchor="end" class="yl">0.05</text><text x="472.00" y="69.20" text-anchor="end" class="yl">0.10</text><text x="472.00" y="37.47" text-anchor="end" class="yl">0.15</text><text x="472.00" y="5.75" text-anchor="end" class="yl">0.20</text></g>
<path d="M473.40,104.05 L475.25,103.77 L477.10,103.49 L478.94,103.22 L480.79,102.94 L482.64,102.67 L484.49,102.40 L486.34,102.12 L488.18,101.85 L490.03,101.57 L491.88,101.29 L493.73,101.00 L495.58,100.72 L497.43,100.43 L499.27,100.13 L501.12,99.83 L502.97,99.52 L504.82,99.21 L506.67,98.89 L508.51,98.56 L510.36,98.23 L512.21,97.89 L514.06,97.54 L515.91,97.18 L517.75,96.81 L519.60,96.42 L521.45,96.03 L523.30,95.63 L525.15,95.21 L526.99,94.79 L528.84,94.35 L530.69,93.89 L532.54,93.42 L534.39,92.94 L536.24,92.44 L538.08,91.93 L539.93,91.40 L541.78,90.85 L543.63,90.29 L545.48,89.71 L547.32,89.11 L549.17,88.49 L551.02,87.85 L552.87,87.19 L554.72,86.51 L556.56,85.81 L558.41,85.09 L560.26,84.35 L562.11,83.58 L563.96,82.79 L565.81,81.98 L567.65,81.14 L569.50,80.29 L571.35,79.43 L573.20,78.55 L575.05,77.67 L576.89,76.79 L578.74,75.90 L580.59,75.03 L582.44,74.17 L584.29,73.32 L586.13,72.51 L587.98,71.75 L589.83,71.07 L591.68,70.49 L593.53,70.02 L595.37,69.70 L597.22,69.54 L599.07,69.59 L600.92,69.89 L602.77,70.49 L604.62,71.41 L606.46,72.70 L608.31,74.36 L610.16,76.39 L612.01,78.78 L613.86,81.55 L615.70,84.68 L617.55,88.18 L619.40,92.01 L619.67,92.59 L619.94,93.17 L620.21,93.76 L620.48,94.35 L620.75,94.95 L621.02,95.55 L621.29,96.15 L621.56,96.75 L621.83,97.36 L622.10,97.97 L622.37,98.57 L622.64,99.18 L622.91,99.79 L623.18,100.40 L623.45,101.01 L623.72,101.62 L623.99,102.22 L624.26,102.82 L624.53,103.43 L624.80,104.03 L625.07,104.62 L625.34,105.21 L625.61,105.80 L625.88,106.38 L626.15,106.96 L626.42,107.53 L626.69,108.09 L626.96,108.65 L627.23,109.20 L627.50,109.74 L627.77,110.27 L628.04,110.80 L628.31,111.31 L628.58,111.82 L628.85,112.32 L629.12,112.81 L629.38,113.29 L629.65,113.76 L629.92,114.23 L630.19,114.68 L630.46,115.13 L630.73,115.57 L631.00,116.01 L631.27,116.43 L631.54,116.85 L631.81,117.26 L632.08,117.66 L632.35,118.06 L632.62,118.44 L632.89,118.82 L633.16,119.20 L633.43,119.56 L633.70,119.92 L633.97,120.27 L634.24,120.61 L634.51,120.95 L634.78,121.28 L635.05,121.60 L635.32,121.92 L635.59,122.23 L635.86,122.53 L636.13,122.83 L636.40,123.12 L636.67,123.41 L636.94,123.69 L637.21,123.97 L637.48,124.24 L637.75,124.50 L638.02,124.77 L638.29,125.02 L638.56,125.28 L638.83,125.52 L639.10,125.77 L639.37,126.00 L639.64,126.24 L639.91,126.46 L640.18,126.68 L640.45,126.89 L640.72,127.10 L640.99,127.30 L641.26,127.49 L641.53,127.67 L641.80,127.84 L642.07,128.00 L642.34,128.16 L642.61,128.30 L642.88,128.43 L643.15,128.55 L643.42,128.67 L643.69,128.77 L643.96,128.87 L644.23,128.97 L644.50,129.06 L644.77,129.15 L645.04,129.24 L645.31,129.32 L645.58,129.40 L645.85,129.48 L646.12,129.56 L646.39,129.63 L646.66,129.70 L646.93,129.76 L647.20,129.82 L647.47,129.87 L647.74,129.92 L648.01,129.97 L648.28,130.01 L648.55,130.05 L648.82,130.08 L649.08,130.11 L649.35,130.13 L649.62,130.16 L649.89,130.18 L650.16,130.21 L650.43,130.23 L650.70,130.25 L650.97,130.27 L651.24,130.29 L651.51,130.31 L651.78,130.33 L652.05,130.34 L652.32,130.36 L652.59,130.37 L652.86,130.38 L653.13,130.39 L653.40,130.39 L653.67,130.40 L653.94,130.40 L654.21,130.40 L654.48,130.40 L654.75,130.40 L655.02,130.40 L655.29,130.40 L655.56,130.40 L655.83,130.40 L656.10,130.40 L656.37,130.40 L656.64,130.40 L656.91,130.40 L657.18,130.40 L657.45,130.40 L657.72,130.40 L657.99,130.40 L658.26,130.40 L658.53,130.40 L658.80,130.40 L659.07,130.40 L659.34,130.40 L659.61,130.40 L659.88,130.40 L660.15,130.40 L660.42,130.40 L660.69,130.40 L660.96,130.40 L661.23,130.40 L661.50,130.40 L661.77,130.40 L662.04,130.40 L662.31,130.40 L662.58,130.40 L662.85,130.40 L663.12,130.40 L663.39,130.40 L663.66,130.40 L663.93,130.40 L664.20,130.40 L664.47,130.40 L664.74,130.40 L665.01,130.40 L665.28,130.40 L665.55,130.40 L665.82,130.40 L666.09,130.40 L666.36,130.40 L666.63,130.40 L666.90,130.40 L667.17,130.40 L667.44,130.40 L667.71,130.40 L667.98,130.40 L668.25,130.40 L668.52,130.40 L668.78,130.40 L669.05,130.40 L669.32,130.40 L669.59,130.40 L669.86,130.40 L670.13,130.40 L670.40,130.40 L670.67,130.40 L670.94,130.40 L671.21,130.40 L671.48,130.40 L671.75,130.40 L672.02,130.40 L672.29,130.40 L672.56,130.40 L672.83,130.40 L673.10,130.40 L673.37,130.40 L673.64,130.40 L673.91,130.40 L674.18,130.40 L674.45,130.40 L674.72,130.40 L674.99,130.40 L675.26,130.40 L675.53,130.40 L675.80,130.40 L676.07,130.40 L676.34,130.40 L676.61,130.40 L676.88,130.40 L677.15,130.40 L677.42,130.40 L677.69,130.40 L677.96,130.40 L678.23,130.40 L678.50,130.40" stroke="#ff1a1a" stroke-width="1.65" fill="none" stroke-linejoin="round"/>
<path d="M473.40,103.58 L475.25,103.36 L477.10,103.12 L478.94,102.88 L480.79,102.63 L482.64,102.38 L484.49,102.12 L486.34,101.85 L488.18,101.58 L490.03,101.30 L491.88,101.01 L493.73,100.71 L495.58,100.41 L497.43,100.10 L499.27,99.78 L501.12,99.45 L502.97,99.12 L504.82,98.78 L506.67,98.42 L508.51,98.06 L510.36,97.69 L512.21,97.31 L514.06,96.93 L515.91,96.53 L517.75,96.12 L519.60,95.70 L521.45,95.27 L523.30,94.83 L525.15,94.39 L526.99,93.93 L528.84,93.45 L530.69,92.97 L532.54,92.48 L534.39,91.98 L536.24,91.46 L538.08,90.93 L539.93,90.39 L541.78,89.84 L543.63,89.27 L545.48,88.70 L547.32,88.11 L549.17,87.50 L551.02,86.89 L552.87,86.26 L554.72,85.63 L556.56,84.98 L558.41,84.32 L560.26,83.65 L562.11,82.97 L563.96,82.27 L565.81,81.57 L567.65,80.87 L569.50,80.15 L571.35,79.39 L573.20,78.61 L575.05,77.83 L576.89,77.04 L578.74,76.24 L580.59,75.43 L582.44,74.61 L584.29,73.80 L586.13,73.01 L587.98,72.28 L589.83,71.64 L591.68,71.16 L593.53,70.84 L595.37,70.70 L597.22,70.78 L599.07,71.11 L600.92,71.72 L602.77,72.64 L604.62,73.90 L606.46,75.52 L608.31,77.47 L610.16,79.74 L612.01,82.32 L613.86,85.19 L615.70,88.35 L617.55,91.77 L619.40,95.40 L619.67,95.94 L619.94,96.49 L620.21,97.04 L620.48,97.59 L620.75,98.14 L621.02,98.70 L621.29,99.26 L621.56,99.82 L621.83,100.38 L622.10,100.95 L622.37,101.51 L622.64,102.08 L622.91,102.65 L623.18,103.21 L623.45,103.78 L623.72,104.34 L623.99,104.90 L624.26,105.46 L624.53,106.02 L624.80,106.58 L625.07,107.13 L625.34,107.68 L625.61,108.23 L625.88,108.77 L626.15,109.31 L626.42,109.84 L626.69,110.37 L626.96,110.89 L627.23,111.41 L627.50,111.92 L627.77,112.42 L628.04,112.92 L628.31,113.41 L628.58,113.89 L628.85,114.36 L629.12,114.83 L629.38,115.28 L629.65,115.73 L629.92,116.17 L630.19,116.60 L630.46,117.03 L630.73,117.44 L631.00,117.85 L631.27,118.25 L631.54,118.64 L631.81,119.03 L632.08,119.40 L632.35,119.77 L632.62,120.14 L632.89,120.50 L633.16,120.85 L633.43,121.19 L633.70,121.53 L633.97,121.86 L634.24,122.19 L634.51,122.51 L634.78,122.83 L635.05,123.14 L635.32,123.44 L635.59,123.74 L635.86,124.04 L636.13,124.32 L636.40,124.61 L636.67,124.88 L636.94,125.15 L637.21,125.41 L637.48,125.67 L637.75,125.92 L638.02,126.16 L638.29,126.39 L638.56,126.62 L638.83,126.83 L639.10,127.04 L639.37,127.24 L639.64,127.43 L639.91,127.61 L640.18,127.78 L640.45,127.94 L640.72,128.10 L640.99,128.24 L641.26,128.38 L641.53,128.51 L641.80,128.64 L642.07,128.76 L642.34,128.88 L642.61,129.00 L642.88,129.11 L643.15,129.22 L643.42,129.33 L643.69,129.43 L643.96,129.52 L644.23,129.61 L644.50,129.69 L644.77,129.76 L645.04,129.83 L645.31,129.89 L645.58,129.94 L645.85,129.98 L646.12,130.01 L646.39,130.04 L646.66,130.07 L646.93,130.10 L647.20,130.13 L647.47,130.16 L647.74,130.18 L648.01,130.21 L648.28,130.23 L648.55,130.25 L648.82,130.27 L649.08,130.29 L649.35,130.31 L649.62,130.33 L649.89,130.34 L650.16,130.36 L650.43,130.37 L650.70,130.38 L650.97,130.39 L651.24,130.39 L651.51,130.40 L651.78,130.40 L652.05,130.40 L652.32,130.40 L652.59,130.40 L652.86,130.40 L653.13,130.40 L653.40,130.40 L653.67,130.40 L653.94,130.40 L654.21,130.40 L654.48,130.40 L654.75,130.40 L655.02,130.40 L655.29,130.40 L655.56,130.40 L655.83,130.40 L656.10,130.40 L656.37,130.40 L656.64,130.40 L656.91,130.40 L657.18,130.40 L657.45,130.40 L657.72,130.40 L657.99,130.40 L658.26,130.40 L658.53,130.40 L658.80,130.40 L659.07,130.40 L659.34,130.40 L659.61,130.40 L659.88,130.40 L660.15,130.40 L660.42,130.40 L660.69,130.40 L660.96,130.40 L661.23,130.40 L661.50,130.40 L661.77,130.40 L662.04,130.40 L662.31,130.40 L662.58,130.40 L662.85,130.40 L663.12,130.40 L663.39,130.40 L663.66,130.40 L663.93,130.40 L664.20,130.40 L664.47,130.40 L664.74,130.40 L665.01,130.40 L665.28,130.40 L665.55,130.40 L665.82,130.40 L666.09,130.40 L666.36,130.40 L666.63,130.40 L666.90,130.40 L667.17,130.40 L667.44,130.40 L667.71,130.40 L667.98,130.40 L668.25,130.40 L668.52,130.40 L668.78,130.40 L669.05,130.40 L669.32,130.40 L669.59,130.40 L669.86,130.40 L670.13,130.40 L670.40,130.40 L670.67,130.40 L670.94,130.40 L671.21,130.40 L671.48,130.40 L671.75,130.40 L672.02,130.40 L672.29,130.40 L672.56,130.40 L672.83,130.40 L673.10,130.40 L673.37,130.40 L673.64,130.40 L673.91,130.40 L674.18,130.40 L674.45,130.40 L674.72,130.40 L674.99,130.40 L675.26,130.40 L675.53,130.40 L675.80,130.40 L676.07,130.40 L676.34,130.40 L676.61,130.40 L676.88,130.40 L677.15,130.40 L677.42,130.40 L677.69,130.40 L677.96,130.40 L678.23,130.40 L678.50,130.40" stroke="#000" stroke-width="1.1" stroke-dasharray="2.1 2.1" fill="none" transform="translate(-0.15,0)"/>
<g fill="#6262ff"><polygon points="481.50,100.30 482.21,102.02 484.07,102.17 482.66,103.38 483.09,105.18 481.50,104.22 479.91,105.18 480.34,103.38 478.93,102.17 480.79,102.02"/><polygon points="491.40,98.50 492.11,100.22 493.97,100.37 492.56,101.58 492.99,103.38 491.40,102.42 489.81,103.38 490.24,101.58 488.83,100.37 490.69,100.22"/><polygon points="501.10,96.20 501.81,97.92 503.67,98.07 502.26,99.28 502.69,101.08 501.10,100.12 499.51,101.08 499.94,99.28 498.53,98.07 500.39,97.92"/><polygon points="510.80,94.70 511.51,96.42 513.37,96.57 511.96,97.78 512.39,99.58 510.80,98.62 509.21,99.58 509.64,97.78 508.23,96.57 510.09,96.42"/><polygon points="520.50,92.50 521.21,94.22 523.07,94.37 521.66,95.58 522.09,97.38 520.50,96.42 518.91,97.38 519.34,95.58 517.93,94.37 519.79,94.22"/><polygon points="530.60,90.30 531.31,92.02 533.17,92.17 531.76,93.38 532.19,95.18 530.60,94.22 529.01,95.18 529.44,93.38 528.03,92.17 529.89,92.02"/><polygon points="540.50,86.30 541.21,88.02 543.07,88.17 541.66,89.38 542.09,91.18 540.50,90.22 538.91,91.18 539.34,89.38 537.93,88.17 539.79,88.02"/><polygon points="550.40,84.40 551.11,86.12 552.97,86.27 551.56,87.48 551.99,89.28 550.40,88.32 548.81,89.28 549.24,87.48 547.83,86.27 549.69,86.12"/><polygon points="560.20,81.10 560.91,82.82 562.77,82.97 561.36,84.18 561.79,85.98 560.20,85.02 558.61,85.98 559.04,84.18 557.63,82.97 559.49,82.82"/><polygon points="570.30,77.80 571.01,79.52 572.87,79.67 571.46,80.88 571.89,82.68 570.30,81.72 568.71,82.68 569.14,80.88 567.73,79.67 569.59,79.52"/><polygon points="580.00,73.70 580.71,75.42 582.57,75.57 581.16,76.78 581.59,78.58 580.00,77.62 578.41,78.58 578.84,76.78 577.43,75.57 579.29,75.42"/><polygon points="589.80,68.70 590.51,70.42 592.37,70.57 590.96,71.78 591.39,73.58 589.80,72.62 588.21,73.58 588.64,71.78 587.23,70.57 589.09,70.42"/><polygon points="599.60,66.30 600.31,68.02 602.17,68.17 600.76,69.38 601.19,71.18 599.60,70.22 598.01,71.18 598.44,69.38 597.03,68.17 598.89,68.02"/><polygon points="609.70,73.90 610.41,75.62 612.27,75.77 610.86,76.98 611.29,78.78 609.70,77.82 608.11,78.78 608.54,76.98 607.13,75.77 608.99,75.62"/><polygon points="619.20,90.40 619.91,92.12 621.77,92.27 620.36,93.48 620.79,95.28 619.20,94.32 617.61,95.28 618.04,93.48 616.63,92.27 618.49,92.12"/><polygon points="629.40,111.40 630.11,113.12 631.97,113.27 630.56,114.48 630.99,116.28 629.40,115.32 627.81,116.28 628.24,114.48 626.83,113.27 628.69,113.12"/><polygon points="639.30,123.80 640.01,125.52 641.87,125.67 640.46,126.88 640.89,128.68 639.30,127.72 637.71,128.68 638.14,126.88 636.73,125.67 638.59,125.52"/><polygon points="649.00,127.70 649.71,129.42 651.57,129.57 650.16,130.78 650.59,132.58 649.00,131.62 647.41,132.58 647.84,130.78 646.43,129.57 648.29,129.42"/><polygon points="658.80,127.70 659.51,129.42 661.37,129.57 659.96,130.78 660.39,132.58 658.80,131.62 657.21,132.58 657.64,130.78 656.23,129.57 658.09,129.42"/><polygon points="668.70,127.70 669.41,129.42 671.27,129.57 669.86,130.78 670.29,132.58 668.70,131.62 667.11,132.58 667.54,130.78 666.13,129.57 667.99,129.42"/><polygon points="678.50,127.70 679.21,129.42 681.07,129.57 679.66,130.78 680.09,132.58 678.50,131.62 676.91,132.58 677.34,130.78 675.93,129.57 677.79,129.42"/></g>
<g class="cap"><text transform="translate(534.17,163.98) scale(1.038,1)" style="font-size:18.89px" class="p">(</text><text transform="translate(540.66,165.04) scale(1.022,1)" style="font-size:21.36px" class="b">C</text><text transform="translate(555.37,163.98) scale(1.018,1)" style="font-size:18.89px" class="p">)</text><text transform="translate(565.58,164.79) scale(0.995,1)" style="font-size:15.83px" class="i">c</text><rect x="576.50" y="158.83" width="10.00" height="0.95" fill="#2a2a2a"/><rect x="576.50" y="162.12" width="10.00" height="0.95" fill="#2a2a2a"/><text transform="translate(592.46,164.79) scale(0.983,1)" style="font-size:15.67px" class="r">15</text></g>
<line x1="9.00" y1="302.40" x2="222.80" y2="302.40" stroke="#c6c6c6" stroke-width="0.9"/>
<line x1="13.40" y1="173.00" x2="13.40" y2="304.70" stroke="#e0e0e0" stroke-width="1"/>
<path d="M21.50,302.40V299.90M60.90,302.40V299.90M100.30,302.40V299.90M139.70,302.40V299.90M179.10,302.40V299.90M218.50,302.40V299.90M13.40,270.68H16.10M13.40,238.95H16.10M13.40,207.23H16.10M13.40,175.50H16.10" stroke="#9a9a9a" stroke-width="0.7" fill="none"/>
<path d="M29.38,302.40V300.90M37.26,302.40V300.90M45.14,302.40V300.90M53.02,302.40V300.90M68.78,302.40V300.90M76.66,302.40V300.90M84.54,302.40V300.90M92.42,302.40V300.90M108.18,302.40V300.90M116.06,302.40V300.90M123.94,302.40V300.90M131.82,302.40V300.90M147.58,302.40V300.90M155.46,302.40V300.90M163.34,302.40V300.90M171.22,302.40V300.90M186.98,302.40V300.90M194.86,302.40V300.90M202.74,302.40V300.90M210.62,302.40V300.90M13.62,302.40V300.90M13.40,296.06H15.00M13.40,289.71H15.00M13.40,283.37H15.00M13.40,277.02H15.00M13.40,264.33H15.00M13.40,257.99H15.00M13.40,251.64H15.00M13.40,245.30H15.00M13.40,232.61H15.00M13.40,226.26H15.00M13.40,219.92H15.00M13.40,213.57H15.00M13.40,200.88H15.00M13.40,194.53H15.00M13.40,188.19H15.00M13.40,181.84H15.00" stroke="#b4b4b4" stroke-width="0.6" fill="none"/>
<g class="tl"><text x="21.50" y="310.30" text-anchor="middle">0.95</text><text x="60.90" y="310.30" text-anchor="middle">0.96</text><text x="100.30" y="310.30" text-anchor="middle">0.97</text><text x="139.70" y="310.30" text-anchor="middle">0.98</text><text x="179.10" y="310.30" text-anchor="middle">0.99</text><text x="218.50" y="310.30" text-anchor="middle">1.00</text><text x="12.00" y="272.93" text-anchor="end" class="yl">0.05</text><text x="12.00" y="241.20" text-anchor="end" class="yl">0.10</text><text x="12.00" y="209.47" text-anchor="end" class="yl">0.15</text><text x="12.00" y="177.75" text-anchor="end" class="yl">0.20</text></g>
<path d="M13.50,293.38 L15.17,293.30 L16.85,293.23 L18.52,293.15 L20.19,293.07 L21.87,292.99 L23.54,292.91 L25.21,292.83 L26.88,292.75 L28.56,292.66 L30.23,292.57 L31.90,292.49 L33.57,292.40 L35.25,292.31 L36.92,292.21 L38.59,292.12 L40.27,292.02 L41.94,291.92 L43.61,291.82 L45.28,291.72 L46.96,291.62 L48.63,291.51 L50.30,291.40 L51.97,291.29 L53.65,291.18 L55.32,291.06 L56.99,290.95 L58.66,290.83 L60.34,290.70 L62.01,290.58 L63.68,290.45 L65.36,290.32 L67.03,290.19 L68.70,290.05 L70.37,289.91 L72.05,289.77 L73.72,289.62 L75.39,289.47 L77.06,289.32 L78.74,289.16 L80.41,289.00 L82.08,288.84 L83.76,288.67 L85.43,288.50 L87.10,288.32 L88.77,288.14 L90.45,287.95 L92.12,287.76 L93.79,287.57 L95.46,287.37 L97.14,287.16 L98.81,286.95 L100.48,286.73 L102.16,286.50 L103.83,286.27 L105.50,286.03 L107.17,285.79 L108.85,285.53 L110.52,285.27 L112.19,285.00 L113.86,284.72 L115.54,284.44 L117.21,284.14 L118.88,283.83 L120.56,283.52 L122.23,283.19 L123.90,282.85 L125.57,282.50 L127.25,282.13 L128.92,281.76 L130.59,281.36 L132.26,280.96 L133.94,280.53 L135.61,280.09 L137.28,279.63 L138.95,279.16 L140.63,278.66 L142.30,278.14 L143.97,277.60 L145.65,277.03 L147.32,276.43 L148.99,275.81 L150.66,275.16 L152.34,274.47 L154.01,273.75 L155.68,272.99 L157.35,272.19 L159.03,271.35 L160.70,270.45 L162.37,269.51 L164.05,268.50 L165.72,267.44 L167.39,266.31 L169.06,265.10 L170.74,263.81 L172.41,262.42 L174.08,260.94 L175.75,259.35 L177.43,257.63 L179.10,255.77 L179.25,255.60 L179.40,255.42 L179.56,255.24 L179.71,255.06 L179.86,254.88 L180.01,254.69 L180.16,254.51 L180.32,254.32 L180.47,254.14 L180.62,253.95 L180.77,253.76 L180.93,253.57 L181.08,253.37 L181.23,253.18 L181.38,252.98 L181.53,252.79 L181.69,252.59 L181.84,252.39 L181.99,252.19 L182.14,251.98 L182.29,251.78 L182.45,251.57 L182.60,251.36 L182.75,251.15 L182.90,250.94 L183.06,250.73 L183.21,250.51 L183.36,250.30 L183.51,250.08 L183.66,249.86 L183.82,249.64 L183.97,249.41 L184.12,249.19 L184.27,248.96 L184.42,248.73 L184.58,248.50 L184.73,248.27 L184.88,248.03 L185.03,247.79 L185.18,247.56 L185.34,247.32 L185.49,247.07 L185.64,246.83 L185.79,246.58 L185.95,246.33 L186.10,246.08 L186.25,245.83 L186.40,245.57 L186.55,245.32 L186.71,245.06 L186.86,244.80 L187.01,244.53 L187.16,244.27 L187.31,244.00 L187.47,243.73 L187.62,243.45 L187.77,243.18 L187.92,242.90 L188.08,242.62 L188.23,242.34 L188.38,242.05 L188.53,241.76 L188.68,241.47 L188.84,241.18 L188.99,240.89 L189.14,240.59 L189.29,240.29 L189.44,239.99 L189.60,239.68 L189.75,239.37 L189.90,239.06 L190.05,238.75 L190.21,238.43 L190.36,238.11 L190.51,237.79 L190.66,237.46 L190.81,237.13 L190.97,236.80 L191.12,236.47 L191.27,236.13 L191.42,235.79 L191.57,235.45 L191.73,235.10 L191.88,234.75 L192.03,234.40 L192.18,234.04 L192.33,233.68 L192.49,233.32 L192.64,232.96 L192.79,232.59 L192.94,232.22 L193.10,231.84 L193.25,231.46 L193.40,231.08 L193.55,230.69 L193.70,230.30 L193.86,229.91 L194.01,229.52 L194.16,229.12 L194.31,228.71 L194.46,228.31 L194.62,227.90 L194.77,227.48 L194.92,227.06 L195.07,226.64 L195.23,226.22 L195.38,225.79 L195.53,225.36 L195.68,224.92 L195.83,224.48 L195.99,224.04 L196.14,223.59 L196.29,223.14 L196.44,222.69 L196.59,222.23 L196.75,221.77 L196.90,221.30 L197.05,220.83 L197.20,220.36 L197.35,219.88 L197.51,219.40 L197.66,218.92 L197.81,218.43 L197.96,217.94 L198.12,217.45 L198.27,216.95 L198.42,216.45 L198.57,215.95 L198.72,215.44 L198.88,214.93 L199.03,214.42 L199.18,213.90 L199.33,213.38 L199.48,212.86 L199.64,212.34 L199.79,211.81 L199.94,211.28 L200.09,210.75 L200.25,210.22 L200.40,209.68 L200.55,209.15 L200.70,208.61 L200.85,208.07 L201.01,207.53 L201.16,206.99 L201.31,206.46 L201.46,205.92 L201.61,205.38 L201.77,204.84 L201.92,204.30 L202.07,203.76 L202.22,203.23 L202.37,202.70 L202.53,202.17 L202.68,201.64 L202.83,201.12 L202.98,200.60 L203.14,200.09 L203.29,199.58 L203.44,199.08 L203.59,198.58 L203.74,198.09 L203.90,197.61 L204.05,197.14 L204.20,196.68 L204.35,196.23 L204.50,195.80 L204.66,195.37 L204.81,194.96 L204.96,194.56 L205.11,194.18 L205.27,193.81 L205.42,193.47 L205.57,193.14 L205.72,192.83 L205.87,192.54 L206.03,192.28 L206.18,192.04 L206.33,191.82 L206.48,191.64 L206.63,191.48 L206.79,191.35 L206.94,191.25 L207.09,191.18 L207.24,191.15 L207.39,191.15 L207.55,191.19 L207.70,191.26 L207.85,191.38 L208.00,191.54 L208.16,191.74 L208.31,191.98 L208.46,192.27 L208.61,192.61 L208.76,192.99 L208.92,193.43 L209.07,193.91 L209.22,194.44 L209.37,195.03 L209.52,195.67 L209.68,196.36 L209.83,197.11 L209.98,197.91 L210.13,198.76 L210.29,199.68 L210.44,200.64 L210.59,201.66 L210.74,202.74 L210.89,203.87 L211.05,205.06 L211.20,206.30 L211.35,207.60 L211.50,208.94 L211.65,210.34 L211.81,211.79 L211.96,213.29 L212.11,214.84 L212.26,216.43 L212.42,218.07 L212.57,219.75 L212.72,221.48 L212.87,223.24 L213.02,225.05 L213.18,226.89 L213.33,228.77 L213.48,230.68 L213.63,232.62 L213.78,234.59 L213.94,236.59 L214.09,238.61 L214.24,240.66 L214.39,242.73 L214.54,244.82 L214.70,246.93 L214.85,249.06 L215.00,251.20 L215.15,253.36 L215.31,255.53 L215.46,257.71 L215.61,259.91 L215.76,262.11 L215.91,264.32 L216.07,266.54 L216.22,268.76 L216.37,270.99 L216.52,273.22 L216.67,275.46 L216.83,277.69 L216.98,279.94 L217.13,282.18 L217.28,284.42 L217.44,286.67 L217.59,288.92 L217.74,291.16 L217.89,293.41 L218.04,295.66 L218.20,297.90 L218.35,300.15 L218.50,302.40" stroke="#ff1a1a" stroke-width="1.7" fill="none" stroke-linejoin="round"/>
<path d="M13.50,293.38 L15.17,293.30 L16.85,293.23 L18.52,293.15 L20.19,293.07 L21.87,292.99 L23.54,292.91 L25.21,292.83 L26.88,292.75 L28.56,292.66 L30.23,292.57 L31.90,292.49 L33.57,292.40 L35.25,292.31 L36.92,292.21 L38.59,292.12 L40.27,292.02 L41.94,291.92 L43.61,291.82 L45.28,291.72 L46.96,291.62 L48.63,291.51 L50.30,291.40 L51.97,291.29 L53.65,291.18 L55.32,291.06 L56.99,290.95 L58.66,290.83 L60.34,290.70 L62.01,290.58 L63.68,290.45 L65.36,290.32 L67.03,290.19 L68.70,290.05 L70.37,289.91 L72.05,289.77 L73.72,289.62 L75.39,289.47 L77.06,289.32 L78.74,289.16 L80.41,289.00 L82.08,288.84 L83.76,288.67 L85.43,288.50 L87.10,288.32 L88.77,288.14 L90.45,287.95 L92.12,287.76 L93.79,287.57 L95.46,287.37 L97.14,287.16 L98.81,286.95 L100.48,286.73 L102.16,286.50 L103.83,286.27 L105.50,286.03 L107.17,285.79 L108.85,285.53 L110.52,285.27 L112.19,285.00 L113.86,284.72 L115.54,284.44 L117.21,284.14 L118.88,283.83 L120.56,283.52 L122.23,283.19 L123.90,282.85 L125.57,282.50 L127.25,282.13 L128.92,281.76 L130.59,281.36 L132.26,280.96 L133.94,280.53 L135.61,280.09 L137.28,279.63 L138.95,279.16 L140.63,278.66 L142.30,278.14 L143.97,277.60 L145.65,277.03 L147.32,276.43 L148.99,275.81 L150.66,275.16 L152.34,274.47 L154.01,273.75 L155.68,272.99 L157.35,272.19 L159.03,271.35 L160.70,270.45 L162.37,269.51 L164.05,268.50 L165.72,267.44 L167.39,266.31 L169.06,265.10 L170.74,263.81 L172.41,262.42 L174.08,260.94 L175.75,259.35 L177.43,257.63 L179.10,255.77 L179.25,255.60 L179.40,255.42 L179.56,255.24 L179.71,255.06 L179.86,254.88 L180.01,254.69 L180.16,254.51 L180.32,254.32 L180.47,254.14 L180.62,253.95 L180.77,253.76 L180.93,253.57 L181.08,253.37 L181.23,253.18 L181.38,252.98 L181.53,252.79 L181.69,252.59 L181.84,252.39 L181.99,252.19 L182.14,251.98 L182.29,251.78 L182.45,251.57 L182.60,251.36 L182.75,251.15 L182.90,250.94 L183.06,250.73 L183.21,250.51 L183.36,250.30 L183.51,250.08 L183.66,249.86 L183.82,249.64 L183.97,249.41 L184.12,249.19 L184.27,248.96 L184.42,248.73 L184.58,248.50 L184.73,248.27 L184.88,248.03 L185.03,247.79 L185.18,247.56 L185.34,247.32 L185.49,247.07 L185.64,246.83 L185.79,246.58 L185.95,246.33 L186.10,246.08 L186.25,245.83 L186.40,245.57 L186.55,245.32 L186.71,245.06 L186.86,244.80 L187.01,244.53 L187.16,244.27 L187.31,244.00 L187.47,243.73 L187.62,243.45 L187.77,243.18 L187.92,242.90 L188.08,242.62 L188.23,242.34 L188.38,242.05 L188.53,241.76 L188.68,241.47 L188.84,241.18 L188.99,240.89 L189.14,240.59 L189.29,240.29 L189.44,239.99 L189.60,239.68 L189.75,239.37 L189.90,239.06 L190.05,238.75 L190.21,238.43 L190.36,238.11 L190.51,237.79 L190.66,237.46 L190.81,237.13 L190.97,236.80 L191.12,236.47 L191.27,236.13 L191.42,235.79 L191.57,235.45 L191.73,235.10 L191.88,234.75 L192.03,234.40 L192.18,234.04 L192.33,233.68 L192.49,233.32 L192.64,232.96 L192.79,232.59 L192.94,232.22 L193.10,231.84 L193.25,231.46 L193.40,231.08 L193.55,230.69 L193.70,230.30 L193.86,229.91 L194.01,229.52 L194.16,229.12 L194.31,228.71 L194.46,228.31 L194.62,227.90 L194.77,227.48 L194.92,227.06 L195.07,226.64 L195.23,226.22 L195.38,225.79 L195.53,225.36 L195.68,224.92 L195.83,224.48 L195.99,224.04 L196.14,223.59 L196.29,223.14 L196.44,222.69 L196.59,222.23 L196.75,221.77 L196.90,221.30 L197.05,220.83 L197.20,220.36 L197.35,219.88 L197.51,219.40 L197.66,218.92 L197.81,218.43 L197.96,217.94 L198.12,217.45 L198.27,216.95 L198.42,216.45 L198.57,215.95 L198.72,215.44 L198.88,214.93 L199.03,214.42 L199.18,213.90 L199.33,213.38 L199.48,212.86 L199.64,212.34 L199.79,211.81 L199.94,211.28 L200.09,210.75 L200.25,210.22 L200.40,209.68 L200.55,209.15 L200.70,208.61 L200.85,208.07 L201.01,207.53 L201.16,206.99 L201.31,206.46 L201.46,205.92 L201.61,205.38 L201.77,204.84 L201.92,204.30 L202.07,203.76 L202.22,203.23 L202.37,202.70 L202.53,202.17 L202.68,201.64 L202.83,201.12 L202.98,200.60 L203.14,200.09 L203.29,199.58 L203.44,199.08 L203.59,198.58 L203.74,198.09 L203.90,197.61 L204.05,197.14 L204.20,196.68 L204.35,196.23 L204.50,195.80 L204.66,195.37 L204.81,194.96 L204.96,194.56 L205.11,194.18 L205.27,193.81 L205.42,193.47 L205.57,193.14 L205.72,192.83 L205.87,192.54 L206.03,192.28 L206.18,192.04 L206.33,191.82 L206.48,191.64 L206.63,191.48 L206.79,191.35 L206.94,191.25 L207.09,191.18 L207.24,191.15 L207.39,191.15 L207.55,191.19 L207.70,191.26 L207.85,191.38 L208.00,191.54 L208.16,191.74 L208.31,191.98 L208.46,192.27 L208.61,192.61 L208.76,192.99 L208.92,193.43 L209.07,193.91 L209.22,194.44 L209.37,195.03 L209.52,195.67 L209.68,196.36 L209.83,197.11 L209.98,197.91 L210.13,198.76 L210.29,199.68 L210.44,200.64 L210.59,201.66 L210.74,202.74 L210.89,203.87 L211.05,205.06 L211.20,206.30 L211.35,207.60 L211.50,208.94 L211.65,210.34 L211.81,211.79 L211.96,213.29 L212.11,214.84 L212.26,216.43 L212.42,218.07 L212.57,219.75 L212.72,221.48 L212.87,223.24 L213.02,225.05 L213.18,226.89 L213.33,228.77 L213.48,230.68 L213.63,232.62 L213.78,234.59 L213.94,236.59 L214.09,238.61 L214.24,240.66 L214.39,242.73 L214.54,244.82 L214.70,246.93 L214.85,249.06 L215.00,251.20 L215.15,253.36 L215.31,255.53 L215.46,257.71 L215.61,259.91 L215.76,262.11 L215.91,264.32 L216.07,266.54 L216.22,268.76 L216.37,270.99 L216.52,273.22 L216.67,275.46 L216.83,277.69 L216.98,279.94 L217.13,282.18 L217.28,284.42 L217.44,286.67 L217.59,288.92 L217.74,291.16 L217.89,293.41 L218.04,295.66 L218.20,297.90 L218.35,300.15 L218.50,302.40" stroke="#000" stroke-width="0.95" stroke-dasharray="2.1 2.1" fill="none" transform="translate(0,-0.25)"/>
<g fill="#6262ff"><polygon points="21.50,290.31 22.21,292.03 24.07,292.18 22.66,293.39 23.09,295.19 21.50,294.22 19.91,295.19 20.34,293.39 18.93,292.18 20.79,292.03"/><polygon points="31.35,289.82 32.06,291.53 33.92,291.68 32.51,292.89 32.94,294.70 31.35,293.73 29.76,294.70 30.19,292.89 28.78,291.68 30.64,291.53"/><polygon points="41.20,289.27 41.91,290.98 43.77,291.13 42.36,292.34 42.79,294.15 41.20,293.18 39.61,294.15 40.04,292.34 38.63,291.13 40.49,290.98"/><polygon points="51.05,288.65 51.76,290.37 53.62,290.52 52.21,291.73 52.64,293.54 51.05,292.57 49.46,293.54 49.89,291.73 48.48,290.52 50.34,290.37"/><polygon points="60.90,287.96 61.61,289.68 63.47,289.83 62.06,291.04 62.49,292.85 60.90,291.88 59.31,292.85 59.74,291.04 58.33,289.83 60.19,289.68"/><polygon points="70.75,287.18 71.46,288.90 73.32,289.05 71.91,290.26 72.34,292.06 70.75,291.10 69.16,292.06 69.59,290.26 68.18,289.05 70.04,288.90"/><polygon points="80.60,286.29 81.31,288.00 83.17,288.15 81.76,289.36 82.19,291.17 80.60,290.20 79.01,291.17 79.44,289.36 78.03,288.15 79.89,288.00"/><polygon points="90.45,285.25 91.16,286.97 93.02,287.12 91.61,288.33 92.04,290.14 90.45,289.17 88.86,290.14 89.29,288.33 87.88,287.12 89.74,286.97"/><polygon points="100.30,284.05 101.01,285.77 102.87,285.92 101.46,287.13 101.89,288.94 100.30,287.97 98.71,288.94 99.14,287.13 97.73,285.92 99.59,285.77"/><polygon points="110.15,282.63 110.86,284.35 112.72,284.50 111.31,285.71 111.74,287.51 110.15,286.54 108.56,287.51 108.99,285.71 107.58,284.50 109.44,284.35"/><polygon points="120.00,280.92 120.71,282.64 122.57,282.79 121.16,284.00 121.59,285.81 120.00,284.84 118.41,285.81 118.84,284.00 117.43,282.79 119.29,282.64"/><polygon points="129.85,278.84 130.56,280.56 132.42,280.71 131.01,281.92 131.44,283.72 129.85,282.76 128.26,283.72 128.69,281.92 127.28,280.71 129.14,280.56"/><polygon points="139.70,276.24 140.41,277.96 142.27,278.10 140.86,279.31 141.29,281.12 139.70,280.15 138.11,281.12 138.54,279.31 137.13,278.10 138.99,277.96"/><polygon points="149.55,272.90 150.26,274.61 152.12,274.76 150.71,275.97 151.14,277.78 149.55,276.81 147.96,277.78 148.39,275.97 146.98,274.76 148.84,274.61"/><polygon points="159.40,268.45 160.11,270.17 161.97,270.32 160.56,271.53 160.99,273.34 159.40,272.37 157.81,273.34 158.24,271.53 156.83,270.32 158.69,270.17"/><polygon points="169.25,262.26 169.96,263.97 171.82,264.12 170.41,265.33 170.84,267.14 169.25,266.17 167.66,267.14 168.09,265.33 166.68,264.12 168.54,263.97"/><polygon points="179.10,253.07 179.81,254.79 181.67,254.94 180.26,256.15 180.69,257.96 179.10,256.99 177.51,257.96 177.94,256.15 176.53,254.94 178.39,254.79"/><polygon points="188.95,238.26 189.66,239.98 191.52,240.13 190.11,241.34 190.54,243.15 188.95,242.18 187.36,243.15 187.79,241.34 186.38,240.13 188.24,239.98"/><polygon points="198.80,212.49 199.51,214.20 201.37,214.35 199.96,215.56 200.39,217.37 198.80,216.40 197.21,217.37 197.64,215.56 196.23,214.35 198.09,214.20"/><polygon points="208.65,190.00 209.36,191.72 211.22,191.87 209.81,193.08 210.24,194.89 208.65,193.92 207.06,194.89 207.49,193.08 206.08,191.87 207.94,191.72"/><polygon points="218.50,299.70 219.21,301.42 221.07,301.57 219.66,302.78 220.09,304.58 218.50,303.61 216.91,304.58 217.34,302.78 215.93,301.57 217.79,301.42"/></g>
<g class="cap"><text transform="translate(78.08,335.98) scale(1.018,1)" style="font-size:18.89px" class="p">(</text><text transform="translate(84.22,336.55) scale(1.102,1)" style="font-size:19.69px" class="b">D</text><text transform="translate(98.86,335.98) scale(1.038,1)" style="font-size:18.89px" class="p">)</text><text transform="translate(109.68,336.79) scale(0.995,1)" style="font-size:15.83px" class="i">c</text><rect x="120.70" y="330.05" width="10.30" height="1.5" fill="#8c8c8c"/><rect x="120.70" y="333.25" width="10.30" height="1.5" fill="#8c8c8c"/><text transform="translate(136.46,336.95) scale(0.994,1)" style="font-size:16.67px" class="r">1</text></g>
<line x1="239.00" y1="302.40" x2="452.80" y2="302.40" stroke="#c6c6c6" stroke-width="0.9"/>
<line x1="243.40" y1="173.00" x2="243.40" y2="304.70" stroke="#e0e0e0" stroke-width="1"/>
<path d="M251.50,302.40V299.90M290.90,302.40V299.90M330.30,302.40V299.90M369.70,302.40V299.90M409.10,302.40V299.90M448.50,302.40V299.90M243.40,270.68H246.10M243.40,238.95H246.10M243.40,207.23H246.10M243.40,175.50H246.10" stroke="#9a9a9a" stroke-width="0.7" fill="none"/>
<path d="M259.38,302.40V300.90M267.26,302.40V300.90M275.14,302.40V300.90M283.02,302.40V300.90M298.78,302.40V300.90M306.66,302.40V300.90M314.54,302.40V300.90M322.42,302.40V300.90M338.18,302.40V300.90M346.06,302.40V300.90M353.94,302.40V300.90M361.82,302.40V300.90M377.58,302.40V300.90M385.46,302.40V300.90M393.34,302.40V300.90M401.22,302.40V300.90M416.98,302.40V300.90M424.86,302.40V300.90M432.74,302.40V300.90M440.62,302.40V300.90M243.62,302.40V300.90M243.40,296.06H245.00M243.40,289.71H245.00M243.40,283.37H245.00M243.40,277.02H245.00M243.40,264.33H245.00M243.40,257.99H245.00M243.40,251.64H245.00M243.40,245.30H245.00M243.40,232.61H245.00M243.40,226.26H245.00M243.40,219.92H245.00M243.40,213.57H245.00M243.40,200.88H245.00M243.40,194.53H245.00M243.40,188.19H245.00M243.40,181.84H245.00" stroke="#b4b4b4" stroke-width="0.6" fill="none"/>
<g class="tl"><text x="251.50" y="310.30" text-anchor="middle">0.95</text><text x="290.90" y="310.30" text-anchor="middle">0.96</text><text x="330.30" y="310.30" text-anchor="middle">0.97</text><text x="369.70" y="310.30" text-anchor="middle">0.98</text><text x="409.10" y="310.30" text-anchor="middle">0.99</text><text x="448.50" y="310.30" text-anchor="middle">1.00</text><text x="242.00" y="272.93" text-anchor="end" class="yl">0.05</text><text x="242.00" y="241.20" text-anchor="end" class="yl">0.10</text><text x="242.00" y="209.47" text-anchor="end" class="yl">0.15</text><text x="242.00" y="177.75" text-anchor="end" class="yl">0.20</text></g>
<path d="M243.40,286.31 L245.25,286.17 L247.10,286.02 L248.94,285.86 L250.79,285.71 L252.64,285.55 L254.49,285.39 L256.34,285.23 L258.18,285.06 L260.03,284.89 L261.88,284.72 L263.73,284.54 L265.58,284.36 L267.43,284.18 L269.27,283.99 L271.12,283.80 L272.97,283.60 L274.82,283.40 L276.67,283.20 L278.51,282.99 L280.36,282.77 L282.21,282.56 L284.06,282.33 L285.91,282.10 L287.75,281.87 L289.60,281.63 L291.45,281.39 L293.30,281.14 L295.15,280.88 L296.99,280.62 L298.84,280.35 L300.69,280.07 L302.54,279.79 L304.39,279.50 L306.24,279.20 L308.08,278.90 L309.93,278.59 L311.78,278.26 L313.63,277.93 L315.48,277.59 L317.32,277.24 L319.17,276.88 L321.02,276.51 L322.87,276.13 L324.72,275.74 L326.56,275.34 L328.41,274.92 L330.26,274.49 L332.11,274.05 L333.96,273.59 L335.81,273.12 L337.65,272.63 L339.50,272.13 L341.35,271.60 L343.20,271.06 L345.05,270.50 L346.89,269.92 L348.74,269.32 L350.59,268.70 L352.44,268.05 L354.29,267.37 L356.13,266.67 L357.98,265.94 L359.83,265.18 L361.68,264.39 L363.53,263.57 L365.37,262.70 L367.22,261.80 L369.07,260.85 L370.92,259.87 L372.77,258.83 L374.62,257.74 L376.46,256.59 L378.31,255.39 L380.16,254.11 L382.01,252.75 L383.86,251.30 L385.70,249.78 L387.55,248.20 L389.40,246.56 L389.67,246.32 L389.94,246.08 L390.21,245.83 L390.48,245.59 L390.75,245.34 L391.02,245.09 L391.29,244.84 L391.56,244.58 L391.83,244.33 L392.10,244.07 L392.37,243.81 L392.64,243.56 L392.91,243.29 L393.18,243.03 L393.45,242.77 L393.72,242.50 L393.99,242.24 L394.26,241.97 L394.53,241.70 L394.80,241.43 L395.07,241.15 L395.34,240.88 L395.61,240.60 L395.88,240.32 L396.15,240.05 L396.42,239.76 L396.69,239.48 L396.96,239.20 L397.23,238.91 L397.50,238.63 L397.77,238.34 L398.04,238.05 L398.31,237.76 L398.58,237.47 L398.85,237.17 L399.12,236.88 L399.38,236.58 L399.65,236.27 L399.92,235.96 L400.19,235.64 L400.46,235.31 L400.73,234.97 L401.00,234.63 L401.27,234.29 L401.54,233.94 L401.81,233.58 L402.08,233.22 L402.35,232.86 L402.62,232.50 L402.89,232.13 L403.16,231.77 L403.43,231.40 L403.70,231.03 L403.97,230.67 L404.24,230.30 L404.51,229.94 L404.78,229.58 L405.05,229.23 L405.32,228.87 L405.59,228.53 L405.86,228.18 L406.13,227.84 L406.40,227.51 L406.67,227.19 L406.94,226.87 L407.21,226.56 L407.48,226.26 L407.75,225.97 L408.02,225.69 L408.29,225.42 L408.56,225.16 L408.83,224.91 L409.10,224.67 L409.37,224.44 L409.64,224.20 L409.91,223.96 L410.18,223.71 L410.45,223.47 L410.72,223.22 L410.99,222.97 L411.26,222.73 L411.53,222.49 L411.80,222.25 L412.07,222.02 L412.34,221.80 L412.61,221.59 L412.88,221.39 L413.15,221.21 L413.42,221.03 L413.69,220.87 L413.96,220.73 L414.23,220.61 L414.50,220.50 L414.77,220.42 L415.04,220.35 L415.31,220.32 L415.58,220.30 L415.85,220.31 L416.12,220.34 L416.39,220.40 L416.66,220.47 L416.93,220.56 L417.20,220.67 L417.47,220.80 L417.74,220.94 L418.01,221.09 L418.28,221.26 L418.55,221.44 L418.82,221.62 L419.08,221.82 L419.35,222.03 L419.62,222.34 L419.89,222.73 L420.16,223.20 L420.43,223.73 L420.70,224.33 L420.97,224.97 L421.24,225.66 L421.51,226.37 L421.78,227.10 L422.05,227.84 L422.32,228.58 L422.59,229.31 L422.86,230.04 L423.13,230.80 L423.40,231.60 L423.67,232.43 L423.94,233.29 L424.21,234.18 L424.48,235.10 L424.75,236.04 L425.02,236.99 L425.29,237.96 L425.56,238.94 L425.83,239.94 L426.10,240.93 L426.37,241.93 L426.64,242.94 L426.91,243.95 L427.18,244.98 L427.45,246.04 L427.72,247.13 L427.99,248.26 L428.26,249.45 L428.53,250.69 L428.80,252.00 L429.07,253.44 L429.34,255.05 L429.61,256.77 L429.88,258.55 L430.15,260.34 L430.42,262.09 L430.69,263.75 L430.96,265.31 L431.23,266.85 L431.50,268.38 L431.77,269.89 L432.04,271.39 L432.31,272.87 L432.58,274.32 L432.85,275.74 L433.12,277.12 L433.39,278.46 L433.66,279.75 L433.93,281.00 L434.20,282.19 L434.47,283.35 L434.74,284.53 L435.01,285.71 L435.28,286.87 L435.55,288.03 L435.82,289.15 L436.09,290.25 L436.36,291.31 L436.63,292.32 L436.90,293.27 L437.17,294.16 L437.44,294.97 L437.71,295.71 L437.98,296.35 L438.25,296.90 L438.52,297.38 L438.78,297.84 L439.05,298.29 L439.32,298.72 L439.59,299.14 L439.86,299.54 L440.13,299.91 L440.40,300.27 L440.67,300.59 L440.94,300.89 L441.21,301.16 L441.48,301.40 L441.75,301.60 L442.02,301.77 L442.29,301.90 L442.56,301.99 L442.83,302.05 L443.10,302.11 L443.37,302.17 L443.64,302.22 L443.91,302.26 L444.18,302.30 L444.45,302.34 L444.72,302.36 L444.99,302.38 L445.26,302.40 L445.53,302.40 L445.80,302.40 L446.07,302.40 L446.34,302.40 L446.61,302.40 L446.88,302.40 L447.15,302.40 L447.42,302.40 L447.69,302.40 L447.96,302.40 L448.23,302.40 L448.50,302.40" stroke="#ff1a1a" stroke-width="1.7" fill="none" stroke-linejoin="round"/>
<path d="M243.40,286.31 L245.25,286.17 L247.10,286.02 L248.94,285.86 L250.79,285.71 L252.64,285.55 L254.49,285.39 L256.34,285.23 L258.18,285.06 L260.03,284.89 L261.88,284.72 L263.73,284.54 L265.58,284.36 L267.43,284.18 L269.27,283.99 L271.12,283.80 L272.97,283.60 L274.82,283.40 L276.67,283.20 L278.51,282.99 L280.36,282.77 L282.21,282.56 L284.06,282.33 L285.91,282.10 L287.75,281.87 L289.60,281.63 L291.45,281.39 L293.30,281.14 L295.15,280.88 L296.99,280.62 L298.84,280.35 L300.69,280.07 L302.54,279.79 L304.39,279.50 L306.24,279.20 L308.08,278.90 L309.93,278.59 L311.78,278.26 L313.63,277.93 L315.48,277.59 L317.32,277.24 L319.17,276.88 L321.02,276.51 L322.87,276.13 L324.72,275.74 L326.56,275.34 L328.41,274.92 L330.26,274.49 L332.11,274.05 L333.96,273.59 L335.81,273.12 L337.65,272.63 L339.50,272.13 L341.35,271.60 L343.20,271.06 L345.05,270.50 L346.89,269.92 L348.74,269.32 L350.59,268.70 L352.44,268.05 L354.29,267.37 L356.13,266.67 L357.98,265.94 L359.83,265.18 L361.68,264.39 L363.53,263.57 L365.37,262.70 L367.22,261.80 L369.07,260.85 L370.92,259.87 L372.77,258.83 L374.62,257.74 L376.46,256.59 L378.31,255.39 L380.16,254.11 L382.01,252.75 L383.86,251.30 L385.70,249.78 L387.55,248.20 L389.40,246.56 L389.67,246.32 L389.94,246.08 L390.21,245.83 L390.48,245.59 L390.75,245.34 L391.02,245.09 L391.29,244.84 L391.56,244.58 L391.83,244.33 L392.10,244.07 L392.37,243.81 L392.64,243.56 L392.91,243.29 L393.18,243.03 L393.45,242.77 L393.72,242.50 L393.99,242.24 L394.26,241.97 L394.53,241.70 L394.80,241.43 L395.07,241.15 L395.34,240.88 L395.61,240.60 L395.88,240.32 L396.15,240.05 L396.42,239.76 L396.69,239.48 L396.96,239.20 L397.23,238.91 L397.50,238.63 L397.77,238.34 L398.04,238.05 L398.31,237.76 L398.58,237.47 L398.85,237.17 L399.12,236.88 L399.38,236.58 L399.65,236.27 L399.92,235.96 L400.19,235.64 L400.46,235.31 L400.73,234.97 L401.00,234.63 L401.27,234.29 L401.54,233.94 L401.81,233.58 L402.08,233.22 L402.35,232.86 L402.62,232.50 L402.89,232.13 L403.16,231.77 L403.43,231.40 L403.70,231.03 L403.97,230.67 L404.24,230.30 L404.51,229.94 L404.78,229.58 L405.05,229.23 L405.32,228.87 L405.59,228.53 L405.86,228.18 L406.13,227.84 L406.40,227.51 L406.67,227.19 L406.94,226.87 L407.21,226.56 L407.48,226.26 L407.75,225.97 L408.02,225.69 L408.29,225.42 L408.56,225.16 L408.83,224.91 L409.10,224.67 L409.37,224.44 L409.64,224.20 L409.91,223.96 L410.18,223.71 L410.45,223.47 L410.72,223.22 L410.99,222.97 L411.26,222.73 L411.53,222.49 L411.80,222.25 L412.07,222.02 L412.34,221.80 L412.61,221.59 L412.88,221.39 L413.15,221.21 L413.42,221.03 L413.69,220.87 L413.96,220.73 L414.23,220.61 L414.50,220.50 L414.77,220.42 L415.04,220.35 L415.31,220.32 L415.58,220.30 L415.85,220.31 L416.12,220.34 L416.39,220.40 L416.66,220.47 L416.93,220.56 L417.20,220.67 L417.47,220.80 L417.74,220.94 L418.01,221.09 L418.28,221.26 L418.55,221.44 L418.82,221.62 L419.08,221.82 L419.35,222.03 L419.62,222.34 L419.89,222.73 L420.16,223.20 L420.43,223.73 L420.70,224.33 L420.97,224.97 L421.24,225.66 L421.51,226.37 L421.78,227.10 L422.05,227.84 L422.32,228.58 L422.59,229.31 L422.86,230.04 L423.13,230.80 L423.40,231.60 L423.67,232.43 L423.94,233.29 L424.21,234.18 L424.48,235.10 L424.75,236.04 L425.02,236.99 L425.29,237.96 L425.56,238.94 L425.83,239.94 L426.10,240.93 L426.37,241.93 L426.64,242.94 L426.91,243.95 L427.18,244.98 L427.45,246.04 L427.72,247.13 L427.99,248.26 L428.26,249.45 L428.53,250.69 L428.80,252.00 L429.07,253.44 L429.34,255.05 L429.61,256.77 L429.88,258.55 L430.15,260.34 L430.42,262.09 L430.69,263.75 L430.96,265.31 L431.23,266.85 L431.50,268.38 L431.77,269.89 L432.04,271.39 L432.31,272.87 L432.58,274.32 L432.85,275.74 L433.12,277.12 L433.39,278.46 L433.66,279.75 L433.93,281.00 L434.20,282.19 L434.47,283.35 L434.74,284.53 L435.01,285.71 L435.28,286.87 L435.55,288.03 L435.82,289.15 L436.09,290.25 L436.36,291.31 L436.63,292.32 L436.90,293.27 L437.17,294.16 L437.44,294.97 L437.71,295.71 L437.98,296.35 L438.25,296.90 L438.52,297.38 L438.78,297.84 L439.05,298.29 L439.32,298.72 L439.59,299.14 L439.86,299.54 L440.13,299.91 L440.40,300.27 L440.67,300.59 L440.94,300.89 L441.21,301.16 L441.48,301.40 L441.75,301.60 L442.02,301.77 L442.29,301.90 L442.56,301.99 L442.83,302.05 L443.10,302.11 L443.37,302.17 L443.64,302.22 L443.91,302.26 L444.18,302.30 L444.45,302.34 L444.72,302.36 L444.99,302.38 L445.26,302.40 L445.53,302.40 L445.80,302.40 L446.07,302.40 L446.34,302.40 L446.61,302.40 L446.88,302.40 L447.15,302.40 L447.42,302.40 L447.69,302.40 L447.96,302.40 L448.23,302.40 L448.50,302.40" stroke="#000" stroke-width="0.95" stroke-dasharray="2.1 2.1" fill="none" transform="translate(0,-0.25)"/>
<g fill="#6262ff"><polygon points="251.50,282.95 252.21,284.67 254.07,284.81 252.66,286.02 253.09,287.83 251.50,286.86 249.91,287.83 250.34,286.02 248.93,284.81 250.79,284.67"/><polygon points="261.35,282.07 262.06,283.78 263.92,283.93 262.51,285.14 262.94,286.95 261.35,285.98 259.76,286.95 260.19,285.14 258.78,283.93 260.64,283.78"/><polygon points="271.20,281.09 271.91,282.81 273.77,282.95 272.36,284.16 272.79,285.97 271.20,285.00 269.61,285.97 270.04,284.16 268.63,282.95 270.49,282.81"/><polygon points="281.05,279.99 281.76,281.71 283.62,281.86 282.21,283.07 282.64,284.88 281.05,283.91 279.46,284.88 279.89,283.07 278.48,281.86 280.34,281.71"/><polygon points="290.90,278.76 291.61,280.48 293.47,280.63 292.06,281.84 292.49,283.65 290.90,282.68 289.31,283.65 289.74,281.84 288.33,280.63 290.19,280.48"/><polygon points="300.75,277.37 301.46,279.08 303.32,279.23 301.91,280.44 302.34,282.25 300.75,281.28 299.16,282.25 299.59,280.44 298.18,279.23 300.04,279.08"/><polygon points="310.60,275.77 311.31,277.49 313.17,277.64 311.76,278.85 312.19,280.65 310.60,279.69 309.01,280.65 309.44,278.85 308.03,277.64 309.89,277.49"/><polygon points="320.45,273.93 321.16,275.65 323.02,275.80 321.61,277.00 322.04,278.81 320.45,277.84 318.86,278.81 319.29,277.00 317.88,275.80 319.74,275.65"/><polygon points="330.30,271.78 331.01,273.50 332.87,273.65 331.46,274.86 331.89,276.67 330.30,275.70 328.71,276.67 329.14,274.86 327.73,273.65 329.59,273.50"/><polygon points="340.15,269.24 340.86,270.96 342.72,271.11 341.31,272.32 341.74,274.13 340.15,273.16 338.56,274.13 338.99,272.32 337.58,271.11 339.44,270.96"/><polygon points="350.00,266.20 350.71,267.92 352.57,268.06 351.16,269.27 351.59,271.08 350.00,270.11 348.41,271.08 348.84,269.27 347.43,268.06 349.29,267.92"/><polygon points="359.85,262.48 360.56,264.19 362.42,264.34 361.01,265.55 361.44,267.36 359.85,266.39 358.26,267.36 358.69,265.55 357.28,264.34 359.14,264.19"/><polygon points="369.70,257.82 370.41,259.54 372.27,259.69 370.86,260.90 371.29,262.71 369.70,261.74 368.11,262.71 368.54,260.90 367.13,259.69 368.99,259.54"/><polygon points="379.55,251.84 380.26,253.56 382.12,253.71 380.71,254.92 381.14,256.72 379.55,255.76 377.96,256.72 378.39,254.92 376.98,253.71 378.84,253.56"/><polygon points="389.40,243.86 390.11,245.58 391.97,245.73 390.56,246.94 390.99,248.75 389.40,247.78 387.81,248.75 388.24,246.94 386.83,245.73 388.69,245.58"/><polygon points="399.25,234.03 399.96,235.75 401.82,235.89 400.41,237.10 400.84,238.91 399.25,237.94 397.66,238.91 398.09,237.10 396.68,235.89 398.54,235.75"/><polygon points="409.10,221.97 409.81,223.69 411.67,223.84 410.26,225.05 410.69,226.86 409.10,225.89 407.51,226.86 407.94,225.05 406.53,223.84 408.39,223.69"/><polygon points="418.95,219.02 419.66,220.73 421.52,220.88 420.11,222.09 420.54,223.90 418.95,222.93 417.36,223.90 417.79,222.09 416.38,220.88 418.24,220.73"/><polygon points="428.80,249.30 429.51,251.02 431.37,251.17 429.96,252.38 430.39,254.18 428.80,253.22 427.21,254.18 427.64,252.38 426.23,251.17 428.09,251.02"/><polygon points="438.65,294.91 439.36,296.63 441.22,296.78 439.81,297.98 440.24,299.79 438.65,298.82 437.06,299.79 437.49,297.98 436.08,296.78 437.94,296.63"/><polygon points="448.50,299.70 449.21,301.42 451.07,301.57 449.66,302.78 450.09,304.58 448.50,303.61 446.91,304.58 447.34,302.78 445.93,301.57 447.79,301.42"/></g>
<g class="cap"><text transform="translate(308.43,335.98) scale(0.957,1)" style="font-size:18.89px" class="p">(</text><text transform="translate(314.83,336.55) scale(1.058,1)" style="font-size:19.69px" class="b">E</text><text transform="translate(328.30,335.98) scale(0.977,1)" style="font-size:18.89px" class="p">)</text><text transform="translate(339.05,336.79) scale(1.058,1)" style="font-size:15.83px" class="i">c</text><rect x="350.30" y="330.05" width="10.20" height="1.5" fill="#8c8c8c"/><rect x="350.30" y="333.25" width="10.20" height="1.5" fill="#8c8c8c"/><text transform="translate(366.00,336.78) scale(0.954,1)" style="font-size:16.52px" class="r">5</text></g>
<line x1="469.00" y1="302.40" x2="682.80" y2="302.40" stroke="#c6c6c6" stroke-width="0.9"/>
<path d="M481.50,302.40V299.90M520.90,302.40V299.90M560.30,302.40V299.90M599.70,302.40V299.90M639.10,302.40V299.90M678.50,302.40V299.90M473.40,270.68H476.10M473.40,238.95H476.10M473.40,207.23H476.10M473.40,175.50H476.10" stroke="#9a9a9a" stroke-width="0.7" fill="none"/>
<path d="M489.38,302.40V300.90M497.26,302.40V300.90M505.14,302.40V300.90M513.02,302.40V300.90M528.78,302.40V300.90M536.66,302.40V300.90M544.54,302.40V300.90M552.42,302.40V300.90M568.18,302.40V300.90M576.06,302.40V300.90M583.94,302.40V300.90M591.82,302.40V300.90M607.58,302.40V300.90M615.46,302.40V300.90M623.34,302.40V300.90M631.22,302.40V300.90M646.98,302.40V300.90M654.86,302.40V300.90M662.74,302.40V300.90M670.62,302.40V300.90M473.62,302.40V300.90M473.40,296.06H475.00M473.40,289.71H475.00M473.40,283.37H475.00M473.40,277.02H475.00M473.40,264.33H475.00M473.40,257.99H475.00M473.40,251.64H475.00M473.40,245.30H475.00M473.40,232.61H475.00M473.40,226.26H475.00M473.40,219.92H475.00M473.40,213.57H475.00M473.40,200.88H475.00M473.40,194.53H475.00M473.40,188.19H475.00M473.40,181.84H475.00" stroke="#b4b4b4" stroke-width="0.6" fill="none"/>
<g class="tl"><text x="481.50" y="310.30" text-anchor="middle">0.95</text><text x="520.90" y="310.30" text-anchor="middle">0.96</text><text x="560.30" y="310.30" text-anchor="middle">0.97</text><text x="599.70" y="310.30" text-anchor="middle">0.98</text><text x="639.10" y="310.30" text-anchor="middle">0.99</text><text x="678.50" y="310.30" text-anchor="middle">1.00</text><text x="472.00" y="272.93" text-anchor="end" class="yl">0.05</text><text x="472.00" y="241.20" text-anchor="end" class="yl">0.10</text><text x="472.00" y="209.47" text-anchor="end" class="yl">0.15</text><text x="472.00" y="177.75" text-anchor="end" class="yl">0.20</text></g>
<path d="M473.40,276.05 L475.25,275.77 L477.10,275.49 L478.94,275.22 L480.79,274.94 L482.64,274.67 L484.49,274.40 L486.34,274.12 L488.18,273.85 L490.03,273.57 L491.88,273.29 L493.73,273.00 L495.58,272.72 L497.43,272.43 L499.27,272.13 L501.12,271.83 L502.97,271.52 L504.82,271.21 L506.67,270.89 L508.51,270.56 L510.36,270.23 L512.21,269.89 L514.06,269.54 L515.91,269.18 L517.75,268.81 L519.60,268.42 L521.45,268.03 L523.30,267.63 L525.15,267.21 L526.99,266.79 L528.84,266.35 L530.69,265.89 L532.54,265.42 L534.39,264.94 L536.24,264.44 L538.08,263.93 L539.93,263.40 L541.78,262.85 L543.63,262.29 L545.48,261.71 L547.32,261.11 L549.17,260.49 L551.02,259.85 L552.87,259.19 L554.72,258.51 L556.56,257.81 L558.41,257.09 L560.26,256.35 L562.11,255.58 L563.96,254.79 L565.81,253.98 L567.65,253.14 L569.50,252.29 L571.35,251.43 L573.20,250.55 L575.05,249.67 L576.89,248.79 L578.74,247.90 L580.59,247.03 L582.44,246.17 L584.29,245.32 L586.13,244.51 L587.98,243.75 L589.83,243.07 L591.68,242.49 L593.53,242.02 L595.37,241.70 L597.22,241.54 L599.07,241.59 L600.92,241.89 L602.77,242.49 L604.62,243.41 L606.46,244.70 L608.31,246.36 L610.16,248.39 L612.01,250.78 L613.86,253.55 L615.70,256.68 L617.55,260.18 L619.40,264.01 L619.67,264.59 L619.94,265.17 L620.21,265.76 L620.48,266.35 L620.75,266.95 L621.02,267.55 L621.29,268.15 L621.56,268.75 L621.83,269.36 L622.10,269.97 L622.37,270.57 L622.64,271.18 L622.91,271.79 L623.18,272.40 L623.45,273.01 L623.72,273.62 L623.99,274.22 L624.26,274.82 L624.53,275.43 L624.80,276.03 L625.07,276.62 L625.34,277.21 L625.61,277.80 L625.88,278.38 L626.15,278.96 L626.42,279.53 L626.69,280.09 L626.96,280.65 L627.23,281.20 L627.50,281.74 L627.77,282.27 L628.04,282.80 L628.31,283.31 L628.58,283.82 L628.85,284.32 L629.12,284.81 L629.38,285.29 L629.65,285.76 L629.92,286.23 L630.19,286.68 L630.46,287.13 L630.73,287.57 L631.00,288.01 L631.27,288.43 L631.54,288.85 L631.81,289.26 L632.08,289.66 L632.35,290.06 L632.62,290.44 L632.89,290.82 L633.16,291.20 L633.43,291.56 L633.70,291.92 L633.97,292.27 L634.24,292.61 L634.51,292.95 L634.78,293.28 L635.05,293.60 L635.32,293.92 L635.59,294.23 L635.86,294.53 L636.13,294.83 L636.40,295.12 L636.67,295.41 L636.94,295.69 L637.21,295.97 L637.48,296.24 L637.75,296.50 L638.02,296.77 L638.29,297.02 L638.56,297.28 L638.83,297.52 L639.10,297.77 L639.37,298.00 L639.64,298.24 L639.91,298.46 L640.18,298.68 L640.45,298.89 L640.72,299.10 L640.99,299.30 L641.26,299.49 L641.53,299.67 L641.80,299.84 L642.07,300.00 L642.34,300.16 L642.61,300.30 L642.88,300.43 L643.15,300.55 L643.42,300.67 L643.69,300.77 L643.96,300.87 L644.23,300.97 L644.50,301.06 L644.77,301.15 L645.04,301.24 L645.31,301.32 L645.58,301.40 L645.85,301.48 L646.12,301.56 L646.39,301.63 L646.66,301.70 L646.93,301.76 L647.20,301.82 L647.47,301.87 L647.74,301.92 L648.01,301.97 L648.28,302.01 L648.55,302.05 L648.82,302.08 L649.08,302.11 L649.35,302.13 L649.62,302.16 L649.89,302.18 L650.16,302.21 L650.43,302.23 L650.70,302.25 L650.97,302.27 L651.24,302.29 L651.51,302.31 L651.78,302.33 L652.05,302.34 L652.32,302.36 L652.59,302.37 L652.86,302.38 L653.13,302.39 L653.40,302.39 L653.67,302.40 L653.94,302.40 L654.21,302.40 L654.48,302.40 L654.75,302.40 L655.02,302.40 L655.29,302.40 L655.56,302.40 L655.83,302.40 L656.10,302.40 L656.37,302.40 L656.64,302.40 L656.91,302.40 L657.18,302.40 L657.45,302.40 L657.72,302.40 L657.99,302.40 L658.26,302.40 L658.53,302.40 L658.80,302.40 L659.07,302.40 L659.34,302.40 L659.61,302.40 L659.88,302.40 L660.15,302.40 L660.42,302.40 L660.69,302.40 L660.96,302.40 L661.23,302.40 L661.50,302.40 L661.77,302.40 L662.04,302.40 L662.31,302.40 L662.58,302.40 L662.85,302.40 L663.12,302.40 L663.39,302.40 L663.66,302.40 L663.93,302.40 L664.20,302.40 L664.47,302.40 L664.74,302.40 L665.01,302.40 L665.28,302.40 L665.55,302.40 L665.82,302.40 L666.09,302.40 L666.36,302.40 L666.63,302.40 L666.90,302.40 L667.17,302.40 L667.44,302.40 L667.71,302.40 L667.98,302.40 L668.25,302.40 L668.52,302.40 L668.78,302.40 L669.05,302.40 L669.32,302.40 L669.59,302.40 L669.86,302.40 L670.13,302.40 L670.40,302.40 L670.67,302.40 L670.94,302.40 L671.21,302.40 L671.48,302.40 L671.75,302.40 L672.02,302.40 L672.29,302.40 L672.56,302.40 L672.83,302.40 L673.10,302.40 L673.37,302.40 L673.64,302.40 L673.91,302.40 L674.18,302.40 L674.45,302.40 L674.72,302.40 L674.99,302.40 L675.26,302.40 L675.53,302.40 L675.80,302.40 L676.07,302.40 L676.34,302.40 L676.61,302.40 L676.88,302.40 L677.15,302.40 L677.42,302.40 L677.69,302.40 L677.96,302.40 L678.23,302.40 L678.50,302.40" stroke="#ff1a1a" stroke-width="1.65" fill="none" stroke-linejoin="round"/>
<path d="M473.40,275.58 L475.25,275.36 L477.10,275.12 L478.94,274.88 L480.79,274.63 L482.64,274.38 L484.49,274.12 L486.34,273.85 L488.18,273.58 L490.03,273.30 L491.88,273.01 L493.73,272.71 L495.58,272.41 L497.43,272.10 L499.27,271.78 L501.12,271.45 L502.97,271.12 L504.82,270.78 L506.67,270.42 L508.51,270.06 L510.36,269.69 L512.21,269.31 L514.06,268.93 L515.91,268.53 L517.75,268.12 L519.60,267.70 L521.45,267.27 L523.30,266.83 L525.15,266.39 L526.99,265.93 L528.84,265.45 L530.69,264.97 L532.54,264.48 L534.39,263.98 L536.24,263.46 L538.08,262.93 L539.93,262.39 L541.78,261.84 L543.63,261.27 L545.48,260.70 L547.32,260.11 L549.17,259.50 L551.02,258.89 L552.87,258.26 L554.72,257.63 L556.56,256.98 L558.41,256.32 L560.26,255.65 L562.11,254.97 L563.96,254.27 L565.81,253.57 L567.65,252.87 L569.50,252.15 L571.35,251.39 L573.20,250.61 L575.05,249.83 L576.89,249.04 L578.74,248.24 L580.59,247.43 L582.44,246.61 L584.29,245.80 L586.13,245.01 L587.98,244.28 L589.83,243.64 L591.68,243.16 L593.53,242.84 L595.37,242.70 L597.22,242.78 L599.07,243.11 L600.92,243.72 L602.77,244.64 L604.62,245.90 L606.46,247.52 L608.31,249.47 L610.16,251.74 L612.01,254.32 L613.86,257.19 L615.70,260.35 L617.55,263.77 L619.40,267.40 L619.67,267.94 L619.94,268.49 L620.21,269.04 L620.48,269.59 L620.75,270.14 L621.02,270.70 L621.29,271.26 L621.56,271.82 L621.83,272.38 L622.10,272.95 L622.37,273.51 L622.64,274.08 L622.91,274.65 L623.18,275.21 L623.45,275.78 L623.72,276.34 L623.99,276.90 L624.26,277.46 L624.53,278.02 L624.80,278.58 L625.07,279.13 L625.34,279.68 L625.61,280.23 L625.88,280.77 L626.15,281.31 L626.42,281.84 L626.69,282.37 L626.96,282.89 L627.23,283.41 L627.50,283.92 L627.77,284.42 L628.04,284.92 L628.31,285.41 L628.58,285.89 L628.85,286.36 L629.12,286.83 L629.38,287.28 L629.65,287.73 L629.92,288.17 L630.19,288.60 L630.46,289.03 L630.73,289.44 L631.00,289.85 L631.27,290.25 L631.54,290.64 L631.81,291.03 L632.08,291.40 L632.35,291.77 L632.62,292.14 L632.89,292.50 L633.16,292.85 L633.43,293.19 L633.70,293.53 L633.97,293.86 L634.24,294.19 L634.51,294.51 L634.78,294.83 L635.05,295.14 L635.32,295.44 L635.59,295.74 L635.86,296.04 L636.13,296.32 L636.40,296.61 L636.67,296.88 L636.94,297.15 L637.21,297.41 L637.48,297.67 L637.75,297.92 L638.02,298.16 L638.29,298.39 L638.56,298.62 L638.83,298.83 L639.10,299.04 L639.37,299.24 L639.64,299.43 L639.91,299.61 L640.18,299.78 L640.45,299.94 L640.72,300.10 L640.99,300.24 L641.26,300.38 L641.53,300.51 L641.80,300.64 L642.07,300.76 L642.34,300.88 L642.61,301.00 L642.88,301.11 L643.15,301.22 L643.42,301.33 L643.69,301.43 L643.96,301.52 L644.23,301.61 L644.50,301.69 L644.77,301.76 L645.04,301.83 L645.31,301.89 L645.58,301.94 L645.85,301.98 L646.12,302.01 L646.39,302.04 L646.66,302.07 L646.93,302.10 L647.20,302.13 L647.47,302.16 L647.74,302.18 L648.01,302.21 L648.28,302.23 L648.55,302.25 L648.82,302.27 L649.08,302.29 L649.35,302.31 L649.62,302.33 L649.89,302.34 L650.16,302.36 L650.43,302.37 L650.70,302.38 L650.97,302.39 L651.24,302.39 L651.51,302.40 L651.78,302.40 L652.05,302.40 L652.32,302.40 L652.59,302.40 L652.86,302.40 L653.13,302.40 L653.40,302.40 L653.67,302.40 L653.94,302.40 L654.21,302.40 L654.48,302.40 L654.75,302.40 L655.02,302.40 L655.29,302.40 L655.56,302.40 L655.83,302.40 L656.10,302.40 L656.37,302.40 L656.64,302.40 L656.91,302.40 L657.18,302.40 L657.45,302.40 L657.72,302.40 L657.99,302.40 L658.26,302.40 L658.53,302.40 L658.80,302.40 L659.07,302.40 L659.34,302.40 L659.61,302.40 L659.88,302.40 L660.15,302.40 L660.42,302.40 L660.69,302.40 L660.96,302.40 L661.23,302.40 L661.50,302.40 L661.77,302.40 L662.04,302.40 L662.31,302.40 L662.58,302.40 L662.85,302.40 L663.12,302.40 L663.39,302.40 L663.66,302.40 L663.93,302.40 L664.20,302.40 L664.47,302.40 L664.74,302.40 L665.01,302.40 L665.28,302.40 L665.55,302.40 L665.82,302.40 L666.09,302.40 L666.36,302.40 L666.63,302.40 L666.90,302.40 L667.17,302.40 L667.44,302.40 L667.71,302.40 L667.98,302.40 L668.25,302.40 L668.52,302.40 L668.78,302.40 L669.05,302.40 L669.32,302.40 L669.59,302.40 L669.86,302.40 L670.13,302.40 L670.40,302.40 L670.67,302.40 L670.94,302.40 L671.21,302.40 L671.48,302.40 L671.75,302.40 L672.02,302.40 L672.29,302.40 L672.56,302.40 L672.83,302.40 L673.10,302.40 L673.37,302.40 L673.64,302.40 L673.91,302.40 L674.18,302.40 L674.45,302.40 L674.72,302.40 L674.99,302.40 L675.26,302.40 L675.53,302.40 L675.80,302.40 L676.07,302.40 L676.34,302.40 L676.61,302.40 L676.88,302.40 L677.15,302.40 L677.42,302.40 L677.69,302.40 L677.96,302.40 L678.23,302.40 L678.50,302.40" stroke="#000" stroke-width="1.1" stroke-dasharray="2.1 2.1" fill="none" transform="translate(-0.15,0)"/>
<g fill="#6262ff"><polygon points="481.50,272.30 482.21,274.02 484.07,274.17 482.66,275.38 483.09,277.18 481.50,276.21 479.91,277.18 480.34,275.38 478.93,274.17 480.79,274.02"/><polygon points="491.40,270.50 492.11,272.22 493.97,272.37 492.56,273.58 492.99,275.38 491.40,274.41 489.81,275.38 490.24,273.58 488.83,272.37 490.69,272.22"/><polygon points="501.10,268.20 501.81,269.92 503.67,270.07 502.26,271.28 502.69,273.08 501.10,272.11 499.51,273.08 499.94,271.28 498.53,270.07 500.39,269.92"/><polygon points="510.80,266.70 511.51,268.42 513.37,268.57 511.96,269.78 512.39,271.58 510.80,270.61 509.21,271.58 509.64,269.78 508.23,268.57 510.09,268.42"/><polygon points="520.50,264.50 521.21,266.22 523.07,266.37 521.66,267.58 522.09,269.38 520.50,268.41 518.91,269.38 519.34,267.58 517.93,266.37 519.79,266.22"/><polygon points="530.60,262.30 531.31,264.02 533.17,264.17 531.76,265.38 532.19,267.18 530.60,266.21 529.01,267.18 529.44,265.38 528.03,264.17 529.89,264.02"/><polygon points="540.50,258.30 541.21,260.02 543.07,260.17 541.66,261.38 542.09,263.18 540.50,262.21 538.91,263.18 539.34,261.38 537.93,260.17 539.79,260.02"/><polygon points="550.40,256.40 551.11,258.12 552.97,258.27 551.56,259.48 551.99,261.28 550.40,260.31 548.81,261.28 549.24,259.48 547.83,258.27 549.69,258.12"/><polygon points="560.20,253.10 560.91,254.82 562.77,254.97 561.36,256.18 561.79,257.98 560.20,257.01 558.61,257.98 559.04,256.18 557.63,254.97 559.49,254.82"/><polygon points="570.30,249.80 571.01,251.52 572.87,251.67 571.46,252.88 571.89,254.68 570.30,253.72 568.71,254.68 569.14,252.88 567.73,251.67 569.59,251.52"/><polygon points="580.00,245.70 580.71,247.42 582.57,247.57 581.16,248.78 581.59,250.58 580.00,249.62 578.41,250.58 578.84,248.78 577.43,247.57 579.29,247.42"/><polygon points="589.80,240.70 590.51,242.42 592.37,242.57 590.96,243.78 591.39,245.58 589.80,244.62 588.21,245.58 588.64,243.78 587.23,242.57 589.09,242.42"/><polygon points="599.60,238.30 600.31,240.02 602.17,240.17 600.76,241.38 601.19,243.18 599.60,242.22 598.01,243.18 598.44,241.38 597.03,240.17 598.89,240.02"/><polygon points="609.70,245.90 610.41,247.62 612.27,247.77 610.86,248.98 611.29,250.78 609.70,249.82 608.11,250.78 608.54,248.98 607.13,247.77 608.99,247.62"/><polygon points="619.20,262.40 619.91,264.12 621.77,264.27 620.36,265.48 620.79,267.28 619.20,266.31 617.61,267.28 618.04,265.48 616.63,264.27 618.49,264.12"/><polygon points="629.40,283.40 630.11,285.12 631.97,285.27 630.56,286.48 630.99,288.28 629.40,287.31 627.81,288.28 628.24,286.48 626.83,285.27 628.69,285.12"/><polygon points="639.30,295.80 640.01,297.52 641.87,297.67 640.46,298.88 640.89,300.68 639.30,299.71 637.71,300.68 638.14,298.88 636.73,297.67 638.59,297.52"/><polygon points="649.00,299.70 649.71,301.42 651.57,301.57 650.16,302.78 650.59,304.58 649.00,303.61 647.41,304.58 647.84,302.78 646.43,301.57 648.29,301.42"/><polygon points="658.80,299.70 659.51,301.42 661.37,301.57 659.96,302.78 660.39,304.58 658.80,303.61 657.21,304.58 657.64,302.78 656.23,301.57 658.09,301.42"/><polygon points="668.70,299.70 669.41,301.42 671.27,301.57 669.86,302.78 670.29,304.58 668.70,303.61 667.11,304.58 667.54,302.78 666.13,301.57 667.99,301.42"/><polygon points="678.50,299.70 679.21,301.42 681.07,301.57 679.66,302.78 680.09,304.58 678.50,303.61 676.91,304.58 677.34,302.78 675.93,301.57 677.79,301.42"/></g>
<g class="cap"><text transform="translate(534.71,335.98) scale(0.977,1)" style="font-size:18.89px" class="p">(</text><text transform="translate(540.82,336.55) scale(1.091,1)" style="font-size:19.69px" class="b">F</text><text transform="translate(553.25,335.98) scale(1.059,1)" style="font-size:18.89px" class="p">)</text><text transform="translate(565.07,336.79) scale(1.011,1)" style="font-size:15.83px" class="i">c</text><rect x="576.70" y="330.05" width="9.90" height="1.5" fill="#8c8c8c"/><rect x="576.70" y="333.25" width="9.90" height="1.5" fill="#8c8c8c"/><text transform="translate(591.97,336.79) scale(0.975,1)" style="font-size:15.67px" class="r">15</text></g>
</svg></body></html>
